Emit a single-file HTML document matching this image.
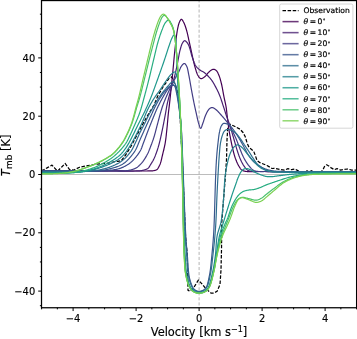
<!DOCTYPE html>
<html lang="en"><head><meta charset="utf-8"><title>Line profile models</title>
<style>html,body{margin:0;padding:0;background:#fff;}body{width:357px;height:339px;overflow:hidden}</style>
</head><body>
<svg width="357" height="339" viewBox="0 0 357 339" style="display:block;font-family:'DejaVu Sans','Liberation Sans',sans-serif">
<rect width="357" height="339" fill="#fff"/>
<defs><clipPath id="ax"><rect x="41.5" y="0.55" width="315.1" height="307.2"/></clipPath></defs>
<g clip-path="url(#ax)" fill="none" stroke-linejoin="round" stroke-linecap="butt">
<line x1="41.5" x2="356.6" y1="174.5" y2="174.5" stroke="#a6a6a6" stroke-width="0.75"/>
<line x1="199.1" x2="199.1" y1="0.55" y2="307.75" stroke="#b4b4b4" stroke-width="1.0" stroke-dasharray="3.1 1.95" stroke-dashoffset="1.2"/>
<path d="M41.40,170.70 L43.00,170.20 L47.50,167.60 L52.00,165.10 L54.80,168.20 L57.60,171.10 L61.50,167.20 L65.20,163.50 L67.30,166.40 L69.40,169.30 L73.60,170.20 L79.50,167.30 L88.00,165.60 L95.00,164.40 L100.60,163.80 L107.00,163.30 L113.00,162.00 L118.00,161.30 L121.20,160.80 L125.60,155.00 L131.20,146.00 L135.10,138.50 L142.80,124.00 L148.50,114.00 L154.10,105.00 L157.50,96.50 L163.00,87.00 L169.00,78.50 L171.70,76.80 L175.00,84.00 L176.90,89.60 L178.00,96.30 L179.90,113.00 L182.30,160.00 L185.50,236.00 L187.30,255.00 L187.80,280.00 L188.00,290.30 L190.50,291.30 L193.50,288.00 L198.40,280.10 L202.50,284.50 L206.30,289.30 L211.20,293.20 L214.00,293.00 L217.10,291.30 L220.00,284.40 L221.00,270.00 L221.50,250.00 L221.80,222.00 L223.50,200.00 L225.50,175.00 L226.50,160.00 L227.00,140.00 L227.80,127.00 L230.10,124.20 L235.00,126.50 L240.20,129.30 L243.00,132.50 L245.30,136.80 L247.10,143.00 L248.60,146.50 L251.00,149.00 L253.70,151.30 L255.50,156.00 L257.00,160.40 L260.00,162.70 L265.40,164.80 L267.00,165.50 L272.10,168.50 L274.00,168.30 L281.00,169.70 L284.50,170.10 L288.00,168.70 L291.50,169.70 L295.00,169.00 L297.80,170.60 L300.50,171.90 L305.50,171.90 L307.00,170.80 L309.00,171.90 L311.50,170.70 L313.50,171.90 L321.00,171.70 L322.60,170.40 L324.50,166.50 L326.60,164.80 L328.80,166.00 L330.80,167.60 L334.30,169.70 L337.10,168.60 L340.60,170.10 L344.10,169.40 L347.60,169.00 L351.80,170.10 L356.60,170.10" stroke="#000" stroke-width="1.25" stroke-dasharray="3.5 1.6"/>
<path d="M41.40,170.90 L45.07,170.90 L48.76,170.90 L52.45,170.90 L56.16,170.90 L59.87,170.90 L63.58,170.90 L67.29,170.90 L70.99,170.90 L74.68,170.90 L78.37,170.90 L82.03,170.90 L85.68,170.90 L89.30,170.90 L92.90,170.90 L96.47,170.90 L100.00,170.90 L103.34,170.90 L106.82,170.91 L110.42,170.92 L114.09,170.94 L117.79,170.96 L121.50,170.97 L125.16,170.99 L128.74,171.00 L132.21,171.01 L135.52,171.02 L138.64,171.02 L141.52,171.02 L144.14,171.00 L146.45,170.98 L148.42,170.95 L150.00,170.90 L150.37,170.89 L150.72,170.88 L151.04,170.87 L151.33,170.86 L151.60,170.85 L151.86,170.84 L152.10,170.83 L152.32,170.82 L152.54,170.81 L152.75,170.79 L152.95,170.77 L153.15,170.75 L153.36,170.72 L153.56,170.69 L153.78,170.65 L154.00,170.60 L154.20,170.56 L154.41,170.51 L154.61,170.47 L154.81,170.42 L155.01,170.37 L155.21,170.32 L155.41,170.26 L155.60,170.20 L155.79,170.14 L155.98,170.07 L156.16,169.99 L156.34,169.91 L156.51,169.82 L156.68,169.72 L156.84,169.62 L157.00,169.50 L157.16,169.37 L157.31,169.22 L157.46,169.06 L157.60,168.89 L157.73,168.72 L157.86,168.53 L157.99,168.34 L158.11,168.14 L158.23,167.94 L158.34,167.74 L158.46,167.53 L158.57,167.32 L158.68,167.11 L158.78,166.91 L158.89,166.70 L159.00,166.50 L159.11,166.30 L159.22,166.09 L159.32,165.89 L159.42,165.69 L159.51,165.49 L159.61,165.29 L159.70,165.08 L159.79,164.87 L159.88,164.66 L159.97,164.45 L160.06,164.22 L160.15,164.00 L160.23,163.76 L160.32,163.52 L160.41,163.26 L160.50,163.00 L160.63,162.60 L160.76,162.17 L160.89,161.73 L161.01,161.28 L161.14,160.81 L161.26,160.32 L161.38,159.82 L161.50,159.31 L161.63,158.80 L161.75,158.27 L161.87,157.74 L161.99,157.20 L162.12,156.65 L162.24,156.10 L162.37,155.55 L162.50,155.00 L162.66,154.32 L162.83,153.63 L163.00,152.92 L163.18,152.21 L163.36,151.48 L163.54,150.74 L163.72,150.00 L163.90,149.24 L164.07,148.48 L164.25,147.71 L164.42,146.94 L164.59,146.16 L164.75,145.38 L164.91,144.59 L165.06,143.79 L165.20,143.00 L165.35,142.11 L165.49,141.21 L165.62,140.29 L165.75,139.36 L165.87,138.43 L165.99,137.48 L166.10,136.53 L166.21,135.58 L166.31,134.62 L166.41,133.67 L166.51,132.71 L166.61,131.76 L166.71,130.81 L166.81,129.86 L166.90,128.93 L167.00,128.00 L167.09,127.11 L167.18,126.22 L167.27,125.32 L167.35,124.43 L167.43,123.53 L167.51,122.64 L167.59,121.75 L167.67,120.86 L167.74,119.98 L167.82,119.10 L167.90,118.23 L167.97,117.37 L168.05,116.51 L168.13,115.67 L168.21,114.83 L168.30,114.00 L168.38,113.28 L168.45,112.60 L168.53,111.93 L168.61,111.27 L168.68,110.63 L168.76,110.00 L168.84,109.37 L168.92,108.73 L169.00,108.09 L169.08,107.43 L169.16,106.76 L169.24,106.07 L169.33,105.35 L169.42,104.61 L169.51,103.82 L169.60,103.00 L169.75,101.61 L169.92,100.12 L170.09,98.55 L170.26,96.91 L170.44,95.20 L170.63,93.44 L170.82,91.64 L171.01,89.81 L171.20,87.95 L171.40,86.08 L171.59,84.21 L171.78,82.35 L171.97,80.51 L172.15,78.70 L172.33,76.92 L172.50,75.20 L172.66,73.59 L172.81,71.97 L172.97,70.36 L173.11,68.74 L173.26,67.14 L173.41,65.53 L173.55,63.93 L173.70,62.34 L173.84,60.76 L173.98,59.18 L174.13,57.62 L174.28,56.06 L174.43,54.53 L174.58,53.00 L174.74,51.49 L174.90,50.00 L175.05,48.67 L175.19,47.33 L175.33,45.97 L175.48,44.62 L175.62,43.27 L175.77,41.93 L175.92,40.59 L176.07,39.28 L176.22,37.99 L176.38,36.73 L176.54,35.50 L176.70,34.30 L176.87,33.15 L177.04,32.05 L177.22,30.99 L177.40,30.00 L177.52,29.39 L177.64,28.79 L177.75,28.20 L177.87,27.63 L177.99,27.07 L178.11,26.52 L178.23,25.99 L178.36,25.48 L178.48,24.98 L178.61,24.50 L178.75,24.04 L178.89,23.59 L179.03,23.16 L179.18,22.76 L179.34,22.37 L179.50,22.00 L179.61,21.77 L179.72,21.54 L179.83,21.31 L179.94,21.07 L180.06,20.84 L180.17,20.62 L180.29,20.41 L180.41,20.20 L180.53,20.02 L180.66,19.84 L180.78,19.69 L180.90,19.56 L181.03,19.45 L181.15,19.37 L181.28,19.32 L181.40,19.30 L181.53,19.31 L181.66,19.36 L181.79,19.44 L181.92,19.55 L182.05,19.68 L182.19,19.84 L182.32,20.01 L182.45,20.20 L182.59,20.41 L182.72,20.63 L182.85,20.85 L182.99,21.08 L183.12,21.31 L183.25,21.55 L183.37,21.78 L183.50,22.00 L183.68,22.33 L183.86,22.69 L184.04,23.05 L184.22,23.44 L184.39,23.84 L184.56,24.25 L184.73,24.67 L184.90,25.11 L185.06,25.56 L185.23,26.03 L185.39,26.50 L185.56,26.98 L185.72,27.47 L185.88,27.98 L186.04,28.48 L186.20,29.00 L186.42,29.74 L186.64,30.51 L186.85,31.31 L187.06,32.13 L187.27,32.98 L187.48,33.85 L187.68,34.74 L187.89,35.64 L188.09,36.56 L188.29,37.48 L188.49,38.41 L188.69,39.33 L188.89,40.26 L189.09,41.18 L189.30,42.10 L189.50,43.00 L189.72,43.95 L189.93,44.92 L190.15,45.90 L190.37,46.89 L190.59,47.90 L190.81,48.90 L191.02,49.91 L191.24,50.91 L191.46,51.91 L191.67,52.90 L191.88,53.87 L192.09,54.82 L192.30,55.76 L192.50,56.67 L192.70,57.55 L192.90,58.40 L193.05,59.03 L193.19,59.65 L193.32,60.25 L193.46,60.84 L193.59,61.41 L193.71,61.98 L193.84,62.54 L193.97,63.09 L194.10,63.64 L194.23,64.18 L194.36,64.71 L194.50,65.25 L194.64,65.78 L194.79,66.32 L194.94,66.86 L195.10,67.40 L195.26,67.93 L195.42,68.47 L195.58,69.02 L195.74,69.57 L195.90,70.12 L196.07,70.67 L196.24,71.22 L196.41,71.76 L196.59,72.29 L196.77,72.80 L196.96,73.31 L197.16,73.79 L197.36,74.26 L197.56,74.70 L197.78,75.11 L198.00,75.50 L198.16,75.76 L198.32,76.02 L198.49,76.29 L198.65,76.54 L198.82,76.79 L198.99,77.04 L199.16,77.27 L199.34,77.50 L199.52,77.71 L199.71,77.90 L199.89,78.07 L200.09,78.23 L200.28,78.36 L200.48,78.47 L200.69,78.55 L200.90,78.60 L201.13,78.62 L201.37,78.61 L201.62,78.56 L201.87,78.49 L202.14,78.39 L202.41,78.27 L202.68,78.13 L202.95,77.98 L203.22,77.81 L203.49,77.63 L203.76,77.44 L204.03,77.25 L204.28,77.06 L204.53,76.87 L204.77,76.68 L205.00,76.50 L205.22,76.32 L205.43,76.13 L205.63,75.92 L205.82,75.71 L206.01,75.49 L206.20,75.26 L206.38,75.03 L206.56,74.80 L206.73,74.56 L206.91,74.33 L207.08,74.09 L207.26,73.86 L207.44,73.64 L207.62,73.42 L207.81,73.20 L208.00,73.00 L208.18,72.81 L208.36,72.62 L208.55,72.44 L208.73,72.25 L208.91,72.06 L209.10,71.87 L209.28,71.69 L209.47,71.51 L209.66,71.34 L209.85,71.17 L210.04,71.00 L210.23,70.85 L210.42,70.70 L210.61,70.55 L210.80,70.42 L211.00,70.30 L211.17,70.20 L211.34,70.10 L211.51,70.00 L211.69,69.91 L211.86,69.82 L212.04,69.73 L212.22,69.65 L212.40,69.57 L212.57,69.50 L212.75,69.44 L212.93,69.39 L213.11,69.35 L213.28,69.32 L213.46,69.30 L213.63,69.29 L213.80,69.30 L213.97,69.32 L214.15,69.35 L214.33,69.40 L214.50,69.45 L214.68,69.52 L214.85,69.60 L215.03,69.68 L215.20,69.78 L215.37,69.88 L215.54,69.99 L215.71,70.11 L215.88,70.24 L216.04,70.37 L216.20,70.51 L216.35,70.65 L216.50,70.80 L216.69,71.01 L216.87,71.23 L217.05,71.47 L217.22,71.72 L217.39,71.98 L217.55,72.26 L217.70,72.55 L217.85,72.85 L218.00,73.16 L218.15,73.48 L218.29,73.81 L218.44,74.14 L218.58,74.47 L218.72,74.81 L218.86,75.16 L219.00,75.50 L219.18,75.95 L219.35,76.42 L219.53,76.90 L219.69,77.39 L219.86,77.89 L220.02,78.40 L220.17,78.93 L220.33,79.46 L220.48,80.00 L220.63,80.55 L220.78,81.11 L220.92,81.68 L221.07,82.25 L221.21,82.83 L221.36,83.41 L221.50,84.00 L221.67,84.74 L221.84,85.50 L222.01,86.28 L222.17,87.09 L222.33,87.91 L222.49,88.74 L222.64,89.58 L222.80,90.43 L222.95,91.28 L223.10,92.12 L223.25,92.97 L223.40,93.80 L223.55,94.63 L223.70,95.44 L223.85,96.23 L224.00,97.00 L224.14,97.66 L224.27,98.32 L224.41,98.96 L224.55,99.60 L224.70,100.24 L224.84,100.87 L224.98,101.49 L225.12,102.11 L225.25,102.73 L225.39,103.34 L225.52,103.95 L225.64,104.56 L225.77,105.17 L225.88,105.78 L226.00,106.39 L226.10,107.00 L226.19,107.57 L226.28,108.13 L226.35,108.68 L226.43,109.22 L226.49,109.76 L226.56,110.29 L226.62,110.83 L226.68,111.37 L226.74,111.91 L226.79,112.46 L226.85,113.02 L226.92,113.58 L226.98,114.16 L227.05,114.76 L227.12,115.37 L227.20,116.00 L227.31,116.86 L227.42,117.75 L227.53,118.66 L227.64,119.60 L227.75,120.55 L227.87,121.52 L227.99,122.51 L228.11,123.51 L228.24,124.52 L228.37,125.55 L228.51,126.58 L228.65,127.62 L228.80,128.66 L228.96,129.71 L229.13,130.75 L229.30,131.80 L229.51,133.01 L229.74,134.28 L229.97,135.57 L230.22,136.90 L230.48,138.25 L230.75,139.61 L231.02,140.98 L231.30,142.34 L231.58,143.68 L231.87,145.01 L232.15,146.30 L232.43,147.55 L232.71,148.76 L232.98,149.91 L233.24,150.99 L233.50,152.00 L233.66,152.61 L233.82,153.19 L233.97,153.76 L234.12,154.31 L234.27,154.84 L234.43,155.35 L234.58,155.86 L234.73,156.35 L234.88,156.82 L235.03,157.29 L235.19,157.75 L235.34,158.21 L235.50,158.66 L235.66,159.11 L235.83,159.55 L236.00,160.00 L236.14,160.37 L236.29,160.74 L236.43,161.10 L236.58,161.45 L236.72,161.80 L236.87,162.15 L237.02,162.48 L237.17,162.82 L237.32,163.15 L237.48,163.48 L237.64,163.80 L237.80,164.13 L237.97,164.45 L238.14,164.77 L238.32,165.08 L238.50,165.40 L238.68,165.71 L238.86,166.03 L239.05,166.35 L239.24,166.67 L239.43,167.00 L239.63,167.32 L239.82,167.64 L240.03,167.95 L240.23,168.25 L240.44,168.55 L240.66,168.83 L240.88,169.10 L241.10,169.35 L241.33,169.59 L241.56,169.80 L241.80,170.00 L241.99,170.14 L242.18,170.27 L242.37,170.39 L242.56,170.50 L242.75,170.59 L242.94,170.68 L243.14,170.76 L243.34,170.84 L243.55,170.90 L243.76,170.97 L243.99,171.03 L244.22,171.08 L244.47,171.14 L244.73,171.19 L245.01,171.24 L245.30,171.30 L245.91,171.40 L246.56,171.48 L247.23,171.53 L247.95,171.58 L248.70,171.60 L249.49,171.61 L250.32,171.61 L251.20,171.60 L252.12,171.59 L253.09,171.57 L254.11,171.55 L255.18,171.53 L256.30,171.51 L257.47,171.50 L258.71,171.50 L260.00,171.50 L263.71,171.52 L268.02,171.54 L272.87,171.55 L278.19,171.55 L283.93,171.55 L290.02,171.55 L296.40,171.55 L303.00,171.55 L309.77,171.54 L316.65,171.53 L323.57,171.52 L330.46,171.52 L337.28,171.51 L343.95,171.51 L350.41,171.50 L356.60,171.50" stroke="#440154" stroke-width="1.2"/>
<path d="M41.40,170.90 L45.09,170.90 L48.81,170.90 L52.57,170.90 L56.35,170.90 L60.14,170.90 L63.93,170.90 L67.72,170.90 L71.49,170.90 L75.24,170.90 L78.95,170.90 L82.62,170.90 L86.24,170.90 L89.79,170.90 L93.28,170.90 L96.68,170.90 L100.00,170.90 L102.67,170.90 L105.39,170.92 L108.14,170.93 L110.91,170.96 L113.67,170.98 L116.41,171.01 L119.11,171.03 L121.74,171.05 L124.28,171.07 L126.72,171.08 L129.03,171.08 L131.19,171.07 L133.19,171.05 L135.01,171.02 L136.62,170.97 L138.00,170.90 L138.44,170.87 L138.85,170.85 L139.23,170.83 L139.59,170.80 L139.92,170.78 L140.23,170.76 L140.52,170.73 L140.80,170.70 L141.08,170.67 L141.34,170.64 L141.61,170.60 L141.87,170.55 L142.14,170.50 L142.41,170.44 L142.70,170.37 L143.00,170.30 L143.32,170.22 L143.65,170.13 L143.98,170.04 L144.32,169.95 L144.65,169.85 L144.99,169.74 L145.33,169.63 L145.66,169.52 L145.98,169.40 L146.30,169.26 L146.62,169.13 L146.92,168.98 L147.21,168.82 L147.49,168.66 L147.75,168.49 L148.00,168.30 L148.21,168.12 L148.40,167.94 L148.58,167.74 L148.76,167.54 L148.92,167.33 L149.07,167.11 L149.22,166.88 L149.36,166.65 L149.50,166.42 L149.64,166.18 L149.77,165.94 L149.91,165.69 L150.05,165.45 L150.19,165.20 L150.34,164.95 L150.50,164.70 L150.69,164.41 L150.88,164.11 L151.07,163.81 L151.27,163.51 L151.47,163.20 L151.66,162.89 L151.86,162.58 L152.06,162.26 L152.26,161.94 L152.45,161.61 L152.65,161.27 L152.84,160.93 L153.03,160.59 L153.23,160.23 L153.41,159.87 L153.60,159.50 L153.83,159.03 L154.05,158.55 L154.28,158.05 L154.50,157.54 L154.73,157.02 L154.95,156.49 L155.17,155.95 L155.38,155.40 L155.60,154.85 L155.81,154.30 L156.02,153.74 L156.22,153.19 L156.42,152.64 L156.62,152.09 L156.81,151.54 L157.00,151.00 L157.18,150.48 L157.35,149.96 L157.52,149.45 L157.68,148.94 L157.84,148.43 L158.00,147.93 L158.15,147.42 L158.30,146.91 L158.45,146.39 L158.60,145.87 L158.75,145.33 L158.90,144.79 L159.04,144.24 L159.19,143.68 L159.35,143.10 L159.50,142.50 L159.70,141.70 L159.90,140.88 L160.11,140.03 L160.31,139.15 L160.52,138.26 L160.72,137.35 L160.92,136.43 L161.13,135.50 L161.33,134.56 L161.53,133.61 L161.73,132.67 L161.93,131.72 L162.12,130.78 L162.32,129.84 L162.51,128.91 L162.70,128.00 L162.89,127.09 L163.07,126.17 L163.26,125.24 L163.45,124.31 L163.63,123.37 L163.81,122.43 L163.99,121.50 L164.17,120.56 L164.35,119.64 L164.52,118.72 L164.70,117.81 L164.86,116.91 L165.03,116.03 L165.19,115.17 L165.35,114.32 L165.50,113.50 L165.62,112.85 L165.73,112.23 L165.83,111.62 L165.93,111.03 L166.03,110.44 L166.13,109.87 L166.22,109.30 L166.31,108.73 L166.41,108.17 L166.50,107.60 L166.60,107.03 L166.71,106.45 L166.82,105.86 L166.94,105.26 L167.06,104.64 L167.20,104.00 L167.38,103.20 L167.57,102.38 L167.77,101.54 L167.97,100.69 L168.19,99.83 L168.41,98.96 L168.64,98.07 L168.87,97.19 L169.11,96.29 L169.35,95.39 L169.59,94.49 L169.83,93.59 L170.08,92.68 L170.32,91.78 L170.56,90.89 L170.80,90.00 L171.05,89.08 L171.30,88.16 L171.56,87.23 L171.83,86.30 L172.09,85.37 L172.36,84.43 L172.63,83.49 L172.90,82.56 L173.17,81.62 L173.43,80.69 L173.69,79.76 L173.95,78.83 L174.20,77.91 L174.44,77.00 L174.68,76.10 L174.90,75.20 L175.10,74.39 L175.29,73.58 L175.47,72.78 L175.65,71.99 L175.82,71.20 L176.00,70.41 L176.16,69.63 L176.33,68.84 L176.49,68.06 L176.65,67.29 L176.80,66.51 L176.96,65.73 L177.12,64.95 L177.28,64.17 L177.44,63.39 L177.60,62.60 L177.76,61.81 L177.92,61.00 L178.07,60.18 L178.22,59.36 L178.37,58.54 L178.52,57.71 L178.67,56.88 L178.82,56.06 L178.96,55.25 L179.12,54.44 L179.27,53.65 L179.43,52.88 L179.59,52.13 L179.75,51.39 L179.92,50.68 L180.10,50.00 L180.24,49.49 L180.37,48.99 L180.51,48.49 L180.64,48.00 L180.78,47.51 L180.92,47.03 L181.06,46.56 L181.20,46.10 L181.35,45.65 L181.50,45.22 L181.65,44.80 L181.81,44.40 L181.97,44.02 L182.14,43.66 L182.32,43.32 L182.50,43.00 L182.62,42.80 L182.75,42.60 L182.88,42.40 L183.01,42.20 L183.14,42.00 L183.28,41.82 L183.42,41.64 L183.56,41.47 L183.70,41.31 L183.84,41.17 L183.98,41.04 L184.12,40.93 L184.27,40.84 L184.41,40.77 L184.56,40.72 L184.70,40.70 L184.84,40.70 L184.98,40.73 L185.13,40.78 L185.27,40.85 L185.42,40.94 L185.57,41.04 L185.72,41.16 L185.87,41.28 L186.02,41.42 L186.17,41.57 L186.32,41.72 L186.46,41.88 L186.60,42.04 L186.74,42.19 L186.87,42.35 L187.00,42.50 L187.15,42.68 L187.29,42.86 L187.42,43.04 L187.56,43.24 L187.68,43.43 L187.81,43.63 L187.93,43.84 L188.05,44.06 L188.17,44.28 L188.29,44.51 L188.40,44.75 L188.52,45.00 L188.64,45.26 L188.76,45.53 L188.88,45.81 L189.00,46.10 L189.21,46.63 L189.41,47.20 L189.62,47.83 L189.82,48.49 L190.02,49.18 L190.22,49.91 L190.42,50.65 L190.62,51.41 L190.82,52.18 L191.02,52.95 L191.23,53.71 L191.44,54.47 L191.65,55.22 L191.86,55.94 L192.08,56.64 L192.30,57.30 L192.50,57.87 L192.69,58.44 L192.88,59.01 L193.07,59.57 L193.26,60.14 L193.45,60.70 L193.64,61.25 L193.84,61.79 L194.04,62.33 L194.25,62.85 L194.46,63.36 L194.69,63.86 L194.92,64.35 L195.17,64.82 L195.43,65.27 L195.70,65.70 L195.94,66.05 L196.19,66.39 L196.45,66.72 L196.72,67.04 L196.99,67.35 L197.27,67.65 L197.56,67.94 L197.85,68.22 L198.14,68.50 L198.43,68.76 L198.73,69.02 L199.03,69.27 L199.32,69.52 L199.62,69.75 L199.91,69.98 L200.20,70.20 L200.44,70.38 L200.69,70.54 L200.93,70.69 L201.18,70.83 L201.43,70.96 L201.68,71.09 L201.93,71.22 L202.18,71.34 L202.43,71.46 L202.67,71.58 L202.92,71.70 L203.16,71.82 L203.40,71.96 L203.64,72.09 L203.87,72.24 L204.10,72.40 L204.33,72.57 L204.55,72.74 L204.77,72.92 L204.99,73.10 L205.20,73.28 L205.41,73.46 L205.62,73.65 L205.83,73.85 L206.04,74.04 L206.24,74.24 L206.45,74.44 L206.66,74.65 L206.86,74.86 L207.07,75.07 L207.29,75.28 L207.50,75.50 L207.75,75.75 L208.00,76.01 L208.25,76.27 L208.51,76.53 L208.76,76.80 L209.02,77.07 L209.27,77.34 L209.53,77.62 L209.78,77.90 L210.04,78.19 L210.29,78.48 L210.54,78.78 L210.78,79.08 L211.03,79.38 L211.27,79.69 L211.50,80.00 L211.75,80.34 L212.00,80.69 L212.24,81.05 L212.47,81.41 L212.71,81.77 L212.94,82.14 L213.17,82.51 L213.40,82.89 L213.62,83.27 L213.85,83.66 L214.07,84.05 L214.29,84.45 L214.52,84.86 L214.74,85.26 L214.97,85.68 L215.20,86.10 L215.47,86.60 L215.74,87.11 L216.02,87.63 L216.29,88.16 L216.57,88.69 L216.84,89.23 L217.12,89.78 L217.39,90.33 L217.67,90.90 L217.94,91.46 L218.21,92.04 L218.47,92.62 L218.73,93.21 L218.99,93.80 L219.25,94.40 L219.50,95.00 L219.78,95.70 L220.06,96.41 L220.33,97.15 L220.60,97.90 L220.87,98.66 L221.13,99.43 L221.39,100.20 L221.65,100.98 L221.91,101.76 L222.16,102.53 L222.41,103.31 L222.65,104.07 L222.89,104.83 L223.13,105.57 L223.37,106.29 L223.60,107.00 L223.80,107.60 L223.99,108.19 L224.18,108.77 L224.36,109.35 L224.54,109.92 L224.72,110.48 L224.90,111.04 L225.08,111.60 L225.25,112.16 L225.42,112.71 L225.60,113.26 L225.78,113.80 L225.95,114.35 L226.13,114.90 L226.31,115.45 L226.50,116.00 L226.68,116.53 L226.87,117.06 L227.05,117.58 L227.24,118.09 L227.42,118.60 L227.61,119.11 L227.80,119.62 L227.99,120.13 L228.18,120.64 L228.37,121.16 L228.56,121.68 L228.75,122.21 L228.93,122.74 L229.12,123.28 L229.31,123.84 L229.50,124.40 L229.72,125.07 L229.93,125.74 L230.15,126.43 L230.36,127.12 L230.58,127.82 L230.79,128.52 L231.01,129.24 L231.22,129.96 L231.44,130.69 L231.65,131.43 L231.87,132.17 L232.09,132.92 L232.31,133.68 L232.54,134.45 L232.77,135.22 L233.00,136.00 L233.28,136.94 L233.56,137.92 L233.85,138.93 L234.15,139.96 L234.45,141.01 L234.75,142.08 L235.05,143.15 L235.36,144.22 L235.66,145.28 L235.97,146.33 L236.27,147.36 L236.56,148.37 L236.86,149.34 L237.15,150.27 L237.43,151.16 L237.70,152.00 L237.88,152.55 L238.06,153.09 L238.24,153.60 L238.41,154.11 L238.58,154.60 L238.75,155.07 L238.92,155.54 L239.08,156.00 L239.25,156.45 L239.42,156.90 L239.59,157.33 L239.76,157.77 L239.94,158.20 L240.12,158.63 L240.31,159.07 L240.50,159.50 L240.68,159.90 L240.86,160.29 L241.04,160.68 L241.22,161.06 L241.40,161.45 L241.58,161.83 L241.77,162.20 L241.96,162.57 L242.15,162.94 L242.35,163.31 L242.54,163.67 L242.75,164.02 L242.95,164.37 L243.16,164.72 L243.38,165.06 L243.60,165.40 L243.81,165.72 L244.03,166.04 L244.26,166.37 L244.49,166.70 L244.72,167.02 L244.95,167.35 L245.19,167.66 L245.43,167.97 L245.68,168.28 L245.92,168.57 L246.17,168.85 L246.41,169.11 L246.66,169.36 L246.91,169.59 L247.15,169.81 L247.40,170.00 L247.57,170.13 L247.74,170.24 L247.90,170.35 L248.06,170.44 L248.21,170.53 L248.37,170.61 L248.53,170.69 L248.69,170.75 L248.85,170.82 L249.03,170.88 L249.21,170.93 L249.40,170.99 L249.60,171.04 L249.82,171.09 L250.05,171.15 L250.30,171.20 L250.88,171.31 L251.50,171.39 L252.16,171.45 L252.87,171.50 L253.62,171.53 L254.42,171.55 L255.26,171.56 L256.14,171.56 L257.08,171.55 L258.06,171.54 L259.09,171.52 L260.17,171.51 L261.30,171.50 L262.48,171.49 L263.71,171.49 L265.00,171.50 L268.57,171.53 L272.70,171.55 L277.32,171.57 L282.39,171.58 L287.83,171.58 L293.61,171.58 L299.65,171.57 L305.90,171.57 L312.30,171.56 L318.80,171.55 L325.34,171.54 L331.86,171.53 L338.31,171.52 L344.61,171.51 L350.73,171.50 L356.60,171.50" stroke="#482071" stroke-width="1.2"/>
<path d="M41.40,171.00 L45.11,171.00 L48.92,171.00 L52.79,171.00 L56.71,171.00 L60.66,171.01 L64.61,171.01 L68.55,171.01 L72.46,171.01 L76.31,171.01 L80.09,171.01 L83.77,171.01 L87.33,171.01 L90.75,171.01 L94.02,171.01 L97.11,171.01 L100.00,171.00 L101.69,171.00 L103.35,171.00 L104.98,171.00 L106.57,171.00 L108.12,171.00 L109.63,171.01 L111.10,171.01 L112.52,171.01 L113.90,171.01 L115.23,171.00 L116.50,171.00 L117.72,170.99 L118.88,170.97 L119.98,170.95 L121.02,170.93 L122.00,170.90 L122.48,170.88 L122.93,170.87 L123.37,170.85 L123.78,170.84 L124.17,170.82 L124.55,170.81 L124.92,170.79 L125.27,170.77 L125.62,170.75 L125.96,170.73 L126.30,170.70 L126.63,170.67 L126.97,170.64 L127.31,170.60 L127.65,170.55 L128.00,170.50 L128.33,170.45 L128.66,170.39 L128.98,170.34 L129.30,170.28 L129.63,170.21 L129.95,170.15 L130.26,170.08 L130.58,170.00 L130.89,169.93 L131.20,169.85 L131.51,169.77 L131.81,169.68 L132.11,169.59 L132.41,169.50 L132.71,169.40 L133.00,169.30 L133.27,169.21 L133.53,169.11 L133.79,169.02 L134.04,168.92 L134.29,168.83 L134.54,168.73 L134.78,168.62 L135.03,168.52 L135.27,168.40 L135.52,168.28 L135.76,168.16 L136.00,168.03 L136.25,167.88 L136.50,167.73 L136.75,167.57 L137.00,167.40 L137.34,167.16 L137.68,166.89 L138.03,166.62 L138.38,166.32 L138.73,166.01 L139.08,165.69 L139.44,165.36 L139.79,165.01 L140.14,164.66 L140.49,164.30 L140.84,163.93 L141.18,163.55 L141.52,163.17 L141.86,162.78 L142.18,162.39 L142.50,162.00 L142.85,161.56 L143.19,161.11 L143.53,160.64 L143.86,160.16 L144.20,159.68 L144.52,159.18 L144.85,158.68 L145.16,158.17 L145.48,157.66 L145.78,157.14 L146.08,156.62 L146.38,156.09 L146.67,155.57 L146.95,155.04 L147.23,154.52 L147.50,154.00 L147.76,153.49 L148.01,152.97 L148.25,152.44 L148.49,151.92 L148.71,151.39 L148.94,150.86 L149.16,150.33 L149.37,149.79 L149.58,149.26 L149.78,148.72 L149.99,148.18 L150.19,147.64 L150.39,147.11 L150.59,146.57 L150.80,146.03 L151.00,145.50 L151.20,144.97 L151.40,144.45 L151.59,143.94 L151.79,143.43 L151.98,142.91 L152.16,142.40 L152.35,141.89 L152.54,141.38 L152.72,140.86 L152.90,140.33 L153.09,139.80 L153.27,139.26 L153.45,138.71 L153.63,138.16 L153.82,137.58 L154.00,137.00 L154.22,136.26 L154.45,135.51 L154.67,134.72 L154.89,133.93 L155.12,133.11 L155.34,132.29 L155.56,131.45 L155.78,130.61 L156.00,129.77 L156.21,128.92 L156.43,128.08 L156.65,127.24 L156.86,126.41 L157.08,125.59 L157.29,124.79 L157.50,124.00 L157.69,123.28 L157.89,122.57 L158.08,121.85 L158.27,121.14 L158.46,120.43 L158.64,119.73 L158.83,119.03 L159.02,118.33 L159.21,117.64 L159.39,116.95 L159.58,116.27 L159.76,115.60 L159.95,114.94 L160.13,114.28 L160.32,113.64 L160.50,113.00 L160.66,112.47 L160.81,111.94 L160.96,111.43 L161.10,110.93 L161.25,110.44 L161.39,109.95 L161.54,109.47 L161.68,108.99 L161.83,108.51 L161.98,108.02 L162.13,107.54 L162.29,107.05 L162.46,106.55 L162.63,106.05 L162.81,105.53 L163.00,105.00 L163.24,104.35 L163.48,103.69 L163.74,103.02 L164.01,102.33 L164.28,101.63 L164.57,100.93 L164.86,100.22 L165.15,99.51 L165.44,98.80 L165.74,98.09 L166.04,97.38 L166.34,96.69 L166.63,96.00 L166.93,95.32 L167.22,94.65 L167.50,94.00 L167.75,93.43 L168.00,92.87 L168.25,92.31 L168.49,91.77 L168.74,91.22 L168.98,90.68 L169.23,90.15 L169.48,89.62 L169.72,89.09 L169.97,88.56 L170.22,88.04 L170.47,87.51 L170.73,86.99 L170.98,86.46 L171.24,85.93 L171.50,85.40 L171.77,84.86 L172.04,84.32 L172.31,83.77 L172.59,83.21 L172.87,82.66 L173.16,82.10 L173.44,81.55 L173.72,81.00 L174.01,80.46 L174.29,79.92 L174.57,79.39 L174.85,78.87 L175.12,78.35 L175.38,77.85 L175.65,77.37 L175.90,76.90 L176.09,76.54 L176.29,76.20 L176.48,75.87 L176.67,75.54 L176.85,75.22 L177.04,74.91 L177.22,74.60 L177.40,74.29 L177.58,73.99 L177.76,73.69 L177.93,73.38 L178.11,73.07 L178.28,72.76 L178.46,72.45 L178.63,72.13 L178.80,71.80 L178.98,71.45 L179.15,71.08 L179.31,70.70 L179.47,70.32 L179.63,69.93 L179.79,69.53 L179.94,69.14 L180.10,68.75 L180.25,68.36 L180.42,67.98 L180.58,67.61 L180.75,67.26 L180.93,66.92 L181.11,66.59 L181.30,66.28 L181.50,66.00 L181.66,65.79 L181.83,65.57 L182.01,65.35 L182.19,65.12 L182.37,64.91 L182.56,64.69 L182.75,64.49 L182.94,64.30 L183.13,64.12 L183.32,63.96 L183.51,63.82 L183.69,63.70 L183.88,63.60 L184.06,63.54 L184.23,63.50 L184.40,63.50 L184.57,63.53 L184.73,63.60 L184.89,63.69 L185.06,63.82 L185.22,63.96 L185.38,64.13 L185.53,64.32 L185.69,64.53 L185.84,64.75 L185.99,64.99 L186.13,65.23 L186.27,65.48 L186.41,65.73 L186.55,65.99 L186.68,66.25 L186.80,66.50 L186.97,66.88 L187.13,67.28 L187.27,67.70 L187.41,68.14 L187.53,68.59 L187.65,69.07 L187.76,69.56 L187.86,70.06 L187.96,70.58 L188.06,71.11 L188.16,71.66 L188.26,72.21 L188.36,72.77 L188.47,73.34 L188.58,73.92 L188.70,74.50 L188.87,75.33 L189.04,76.20 L189.21,77.11 L189.39,78.05 L189.56,79.01 L189.74,80.00 L189.92,81.00 L190.09,82.01 L190.27,83.04 L190.45,84.06 L190.62,85.09 L190.80,86.10 L190.98,87.11 L191.15,88.09 L191.33,89.06 L191.50,90.00 L191.66,90.85 L191.82,91.69 L191.97,92.53 L192.13,93.37 L192.29,94.21 L192.44,95.04 L192.60,95.86 L192.75,96.68 L192.91,97.49 L193.07,98.30 L193.22,99.10 L193.38,99.90 L193.53,100.69 L193.69,101.47 L193.84,102.24 L194.00,103.00 L194.14,103.66 L194.27,104.31 L194.41,104.95 L194.54,105.59 L194.68,106.22 L194.81,106.84 L194.95,107.46 L195.09,108.07 L195.22,108.68 L195.36,109.29 L195.50,109.90 L195.63,110.52 L195.77,111.13 L195.91,111.75 L196.06,112.37 L196.20,113.00 L196.35,113.66 L196.50,114.33 L196.65,115.01 L196.80,115.71 L196.95,116.41 L197.10,117.11 L197.25,117.81 L197.41,118.50 L197.56,119.19 L197.72,119.86 L197.88,120.52 L198.04,121.17 L198.20,121.79 L198.36,122.39 L198.53,122.96 L198.70,123.50 L198.82,123.87 L198.94,124.26 L199.06,124.66 L199.18,125.07 L199.31,125.47 L199.43,125.87 L199.56,126.26 L199.69,126.62 L199.81,126.97 L199.94,127.29 L200.07,127.57 L200.20,127.82 L200.32,128.02 L200.45,128.17 L200.57,128.27 L200.70,128.30 L200.82,128.27 L200.94,128.19 L201.05,128.05 L201.17,127.87 L201.29,127.65 L201.41,127.39 L201.52,127.10 L201.64,126.79 L201.76,126.45 L201.88,126.11 L201.99,125.75 L202.11,125.39 L202.23,125.03 L202.35,124.67 L202.48,124.33 L202.60,124.00 L202.77,123.55 L202.94,123.07 L203.11,122.56 L203.29,122.04 L203.46,121.50 L203.63,120.95 L203.81,120.38 L203.99,119.82 L204.17,119.25 L204.35,118.68 L204.53,118.11 L204.72,117.56 L204.91,117.02 L205.10,116.49 L205.30,115.98 L205.50,115.50 L205.67,115.10 L205.85,114.70 L206.03,114.30 L206.21,113.90 L206.40,113.50 L206.58,113.11 L206.77,112.72 L206.96,112.34 L207.15,111.97 L207.34,111.62 L207.54,111.27 L207.73,110.94 L207.92,110.63 L208.12,110.33 L208.31,110.06 L208.50,109.80 L208.62,109.64 L208.75,109.49 L208.87,109.35 L208.99,109.21 L209.11,109.08 L209.23,108.95 L209.35,108.83 L209.48,108.72 L209.60,108.61 L209.72,108.51 L209.85,108.41 L209.98,108.31 L210.10,108.23 L210.23,108.15 L210.37,108.07 L210.50,108.00 L210.62,107.94 L210.74,107.89 L210.86,107.84 L210.98,107.79 L211.10,107.75 L211.22,107.71 L211.34,107.67 L211.47,107.64 L211.59,107.62 L211.72,107.60 L211.85,107.58 L211.97,107.57 L212.10,107.57 L212.23,107.57 L212.37,107.58 L212.50,107.60 L212.67,107.63 L212.85,107.67 L213.03,107.73 L213.21,107.79 L213.39,107.87 L213.57,107.95 L213.76,108.05 L213.94,108.15 L214.13,108.26 L214.32,108.38 L214.52,108.50 L214.71,108.63 L214.90,108.77 L215.10,108.91 L215.30,109.05 L215.50,109.20 L215.80,109.43 L216.10,109.68 L216.41,109.95 L216.72,110.23 L217.03,110.53 L217.35,110.85 L217.67,111.17 L217.99,111.51 L218.32,111.86 L218.65,112.22 L218.99,112.59 L219.32,112.96 L219.66,113.34 L220.01,113.72 L220.35,114.11 L220.70,114.50 L221.16,115.01 L221.64,115.55 L222.12,116.09 L222.62,116.65 L223.13,117.23 L223.64,117.81 L224.16,118.41 L224.67,119.02 L225.19,119.64 L225.70,120.27 L226.21,120.91 L226.71,121.56 L227.20,122.21 L227.68,122.87 L228.15,123.53 L228.60,124.20 L229.07,124.92 L229.52,125.65 L229.96,126.39 L230.40,127.13 L230.82,127.89 L231.24,128.66 L231.65,129.43 L232.06,130.22 L232.46,131.01 L232.85,131.81 L233.25,132.62 L233.64,133.44 L234.03,134.27 L234.42,135.10 L234.81,135.95 L235.20,136.80 L235.64,137.79 L236.09,138.83 L236.54,139.91 L236.98,141.02 L237.42,142.15 L237.86,143.30 L238.30,144.45 L238.73,145.60 L239.16,146.73 L239.58,147.85 L239.99,148.94 L240.39,150.00 L240.79,151.01 L241.17,151.97 L241.54,152.87 L241.90,153.70 L242.11,154.18 L242.32,154.65 L242.52,155.09 L242.72,155.52 L242.91,155.93 L243.09,156.33 L243.28,156.72 L243.46,157.09 L243.64,157.47 L243.83,157.83 L244.01,158.19 L244.20,158.55 L244.39,158.91 L244.59,159.27 L244.79,159.63 L245.00,160.00 L245.21,160.36 L245.42,160.71 L245.63,161.06 L245.84,161.41 L246.05,161.76 L246.27,162.11 L246.49,162.45 L246.71,162.79 L246.93,163.12 L247.16,163.46 L247.39,163.79 L247.63,164.12 L247.86,164.44 L248.11,164.77 L248.35,165.08 L248.60,165.40 L248.85,165.71 L249.11,166.03 L249.38,166.36 L249.65,166.68 L249.92,167.01 L250.20,167.33 L250.48,167.65 L250.76,167.96 L251.05,168.26 L251.33,168.56 L251.61,168.84 L251.90,169.11 L252.18,169.36 L252.45,169.59 L252.73,169.81 L253.00,170.00 L253.19,170.12 L253.36,170.24 L253.53,170.34 L253.70,170.44 L253.86,170.53 L254.03,170.61 L254.19,170.68 L254.36,170.75 L254.53,170.82 L254.70,170.88 L254.89,170.93 L255.08,170.99 L255.29,171.04 L255.51,171.09 L255.75,171.15 L256.00,171.20 L256.57,171.30 L257.17,171.38 L257.81,171.44 L258.48,171.49 L259.20,171.52 L259.96,171.54 L260.76,171.55 L261.60,171.55 L262.48,171.54 L263.41,171.53 L264.39,171.52 L265.41,171.51 L266.49,171.50 L267.61,171.49 L268.78,171.49 L270.00,171.50 L273.38,171.53 L277.29,171.55 L281.67,171.57 L286.46,171.57 L291.61,171.58 L297.06,171.58 L302.77,171.57 L308.68,171.57 L314.74,171.56 L320.88,171.55 L327.06,171.54 L333.22,171.52 L339.31,171.52 L345.27,171.51 L351.05,171.50 L356.60,171.50" stroke="#433d84" stroke-width="1.2"/>
<path d="M41.40,171.10 L44.50,171.10 L47.72,171.10 L51.03,171.10 L54.41,171.11 L57.81,171.11 L61.23,171.11 L64.63,171.12 L67.98,171.12 L71.27,171.12 L74.45,171.12 L77.51,171.12 L80.42,171.12 L83.15,171.12 L85.67,171.11 L87.97,171.11 L90.00,171.10 L90.83,171.10 L91.61,171.09 L92.34,171.09 L93.03,171.09 L93.68,171.09 L94.30,171.09 L94.90,171.09 L95.47,171.09 L96.03,171.09 L96.58,171.08 L97.13,171.08 L97.68,171.07 L98.23,171.06 L98.80,171.04 L99.39,171.02 L100.00,171.00 L100.63,170.97 L101.25,170.95 L101.88,170.92 L102.50,170.89 L103.13,170.87 L103.75,170.83 L104.38,170.80 L105.01,170.76 L105.63,170.72 L106.26,170.68 L106.88,170.63 L107.51,170.57 L108.13,170.51 L108.75,170.45 L109.38,170.38 L110.00,170.30 L110.63,170.22 L111.26,170.14 L111.89,170.06 L112.52,169.98 L113.16,169.89 L113.79,169.80 L114.42,169.71 L115.05,169.61 L115.68,169.50 L116.31,169.38 L116.93,169.25 L117.55,169.11 L118.17,168.95 L118.79,168.79 L119.40,168.60 L120.00,168.40 L120.62,168.18 L121.24,167.93 L121.87,167.68 L122.50,167.41 L123.12,167.12 L123.75,166.83 L124.37,166.52 L124.98,166.20 L125.59,165.88 L126.18,165.54 L126.77,165.20 L127.35,164.85 L127.91,164.49 L128.46,164.13 L128.99,163.77 L129.50,163.40 L129.94,163.07 L130.37,162.74 L130.78,162.40 L131.18,162.05 L131.58,161.70 L131.96,161.34 L132.33,160.98 L132.70,160.62 L133.07,160.24 L133.42,159.87 L133.77,159.48 L134.12,159.10 L134.47,158.70 L134.81,158.31 L135.16,157.91 L135.50,157.50 L135.86,157.07 L136.22,156.63 L136.57,156.18 L136.93,155.73 L137.28,155.27 L137.63,154.80 L137.97,154.33 L138.31,153.85 L138.64,153.37 L138.97,152.89 L139.28,152.41 L139.59,151.92 L139.88,151.44 L140.17,150.96 L140.44,150.48 L140.70,150.00 L140.92,149.57 L141.12,149.15 L141.31,148.73 L141.49,148.32 L141.66,147.91 L141.81,147.49 L141.97,147.08 L142.12,146.66 L142.26,146.24 L142.41,145.81 L142.56,145.37 L142.71,144.92 L142.87,144.46 L143.03,143.99 L143.21,143.50 L143.40,143.00 L143.68,142.26 L143.98,141.48 L144.28,140.67 L144.60,139.84 L144.92,138.98 L145.25,138.10 L145.58,137.21 L145.92,136.30 L146.27,135.38 L146.62,134.46 L146.96,133.53 L147.31,132.61 L147.66,131.69 L148.01,130.78 L148.36,129.88 L148.70,129.00 L149.05,128.11 L149.40,127.21 L149.76,126.30 L150.12,125.38 L150.48,124.46 L150.85,123.53 L151.22,122.61 L151.58,121.69 L151.95,120.79 L152.31,119.89 L152.66,119.01 L153.01,118.16 L153.35,117.32 L153.68,116.52 L153.99,115.74 L154.30,115.00 L154.51,114.50 L154.71,114.02 L154.89,113.56 L155.08,113.11 L155.25,112.68 L155.43,112.26 L155.60,111.84 L155.77,111.44 L155.94,111.03 L156.12,110.62 L156.29,110.21 L156.48,109.79 L156.67,109.37 L156.87,108.93 L157.08,108.47 L157.30,108.00 L157.60,107.37 L157.91,106.72 L158.24,106.05 L158.58,105.37 L158.93,104.67 L159.28,103.96 L159.65,103.24 L160.02,102.52 L160.39,101.80 L160.77,101.08 L161.15,100.37 L161.52,99.67 L161.90,98.97 L162.27,98.30 L162.64,97.64 L163.00,97.00 L163.31,96.45 L163.63,95.90 L163.94,95.36 L164.25,94.81 L164.57,94.27 L164.88,93.74 L165.20,93.21 L165.51,92.69 L165.83,92.17 L166.14,91.67 L166.45,91.19 L166.77,90.72 L167.08,90.26 L167.39,89.82 L167.69,89.40 L168.00,89.00 L168.22,88.72 L168.44,88.43 L168.66,88.15 L168.88,87.86 L169.10,87.59 L169.32,87.32 L169.54,87.06 L169.75,86.81 L169.97,86.57 L170.19,86.35 L170.41,86.14 L170.62,85.95 L170.84,85.78 L171.06,85.63 L171.28,85.50 L171.50,85.40 L171.66,85.35 L171.81,85.31 L171.97,85.28 L172.12,85.27 L172.28,85.27 L172.44,85.28 L172.59,85.29 L172.75,85.31 L172.90,85.34 L173.06,85.37 L173.22,85.40 L173.37,85.42 L173.53,85.45 L173.69,85.47 L173.84,85.49 L174.00,85.50" stroke="#3e4989" stroke-width="1.2"/>
<path d="M41.40,171.20 L43.86,171.20 L46.40,171.20 L49.00,171.20 L51.64,171.21 L54.31,171.21 L56.98,171.21 L59.64,171.21 L62.27,171.22 L64.85,171.22 L67.36,171.22 L69.79,171.22 L72.12,171.22 L74.32,171.22 L76.38,171.21 L78.28,171.21 L80.00,171.20 L80.80,171.20 L81.56,171.19 L82.28,171.19 L82.96,171.19 L83.61,171.19 L84.23,171.19 L84.83,171.18 L85.41,171.18 L85.98,171.18 L86.54,171.17 L87.09,171.16 L87.65,171.15 L88.22,171.14 L88.79,171.13 L89.39,171.12 L90.00,171.10 L90.63,171.08 L91.25,171.07 L91.88,171.05 L92.50,171.03 L93.13,171.02 L93.75,171.00 L94.38,170.98 L95.00,170.96 L95.63,170.93 L96.26,170.90 L96.88,170.86 L97.51,170.82 L98.13,170.78 L98.75,170.73 L99.38,170.67 L100.00,170.60 L100.63,170.53 L101.25,170.45 L101.88,170.36 L102.51,170.27 L103.14,170.18 L103.76,170.08 L104.39,169.98 L105.02,169.87 L105.64,169.76 L106.27,169.64 L106.89,169.51 L107.51,169.38 L108.14,169.24 L108.76,169.10 L109.38,168.95 L110.00,168.80 L110.64,168.64 L111.28,168.47 L111.94,168.29 L112.60,168.11 L113.26,167.92 L113.92,167.72 L114.58,167.52 L115.23,167.31 L115.88,167.10 L116.52,166.88 L117.14,166.66 L117.75,166.44 L118.35,166.21 L118.92,165.98 L119.47,165.74 L120.00,165.50 L120.39,165.31 L120.77,165.13 L121.13,164.94 L121.48,164.76 L121.83,164.57 L122.16,164.38 L122.49,164.18 L122.81,163.99 L123.13,163.79 L123.44,163.58 L123.75,163.37 L124.06,163.15 L124.36,162.92 L124.67,162.69 L124.99,162.45 L125.30,162.20 L125.65,161.92 L125.99,161.62 L126.34,161.32 L126.68,161.00 L127.02,160.68 L127.36,160.36 L127.69,160.02 L128.02,159.68 L128.35,159.33 L128.68,158.98 L129.01,158.63 L129.33,158.27 L129.65,157.90 L129.97,157.54 L130.29,157.17 L130.60,156.80 L130.93,156.41 L131.25,156.02 L131.58,155.62 L131.90,155.23 L132.21,154.82 L132.53,154.42 L132.84,154.01 L133.15,153.59 L133.46,153.17 L133.76,152.74 L134.06,152.30 L134.36,151.86 L134.65,151.41 L134.94,150.95 L135.22,150.48 L135.50,150.00 L135.81,149.43 L136.12,148.85 L136.41,148.26 L136.70,147.65 L136.98,147.03 L137.26,146.40 L137.53,145.76 L137.80,145.12 L138.06,144.46 L138.33,143.80 L138.60,143.14 L138.87,142.48 L139.14,141.81 L139.42,141.14 L139.71,140.47 L140.00,139.80 L140.33,139.06 L140.66,138.32 L140.99,137.57 L141.33,136.81 L141.67,136.04 L142.01,135.27 L142.35,134.50 L142.70,133.72 L143.05,132.95 L143.39,132.17 L143.74,131.39 L144.09,130.61 L144.45,129.83 L144.80,129.05 L145.15,128.27 L145.50,127.50 L145.86,126.71 L146.23,125.92 L146.60,125.11 L146.97,124.30 L147.35,123.48 L147.73,122.66 L148.11,121.84 L148.49,121.03 L148.87,120.22 L149.24,119.43 L149.61,118.64 L149.97,117.87 L150.32,117.12 L150.66,116.39 L150.98,115.68 L151.30,115.00 L151.52,114.51 L151.74,114.04 L151.94,113.58 L152.14,113.13 L152.33,112.70 L152.52,112.28 L152.70,111.86 L152.89,111.44 L153.07,111.03 L153.26,110.62 L153.44,110.20 L153.64,109.78 L153.84,109.35 L154.05,108.91 L154.27,108.46 L154.50,108.00 L154.79,107.42 L155.10,106.82 L155.41,106.20 L155.73,105.58 L156.06,104.94 L156.39,104.30 L156.73,103.66 L157.08,103.01 L157.43,102.36 L157.79,101.71 L158.15,101.07 L158.52,100.43 L158.89,99.81 L159.26,99.19 L159.63,98.59 L160.00,98.00 L160.35,97.46 L160.72,96.92 L161.09,96.37 L161.46,95.84 L161.84,95.30 L162.22,94.77 L162.61,94.24 L163.00,93.73 L163.38,93.22 L163.77,92.72 L164.15,92.23 L164.54,91.75 L164.91,91.29 L165.28,90.84 L165.64,90.41 L166.00,90.00 L166.26,89.70 L166.52,89.40 L166.79,89.11 L167.04,88.82 L167.30,88.54 L167.56,88.27 L167.81,88.00 L168.06,87.74 L168.31,87.49 L168.56,87.25 L168.81,87.02 L169.05,86.79 L169.29,86.58 L169.53,86.37 L169.77,86.18 L170.00,86.00 L170.16,85.87 L170.33,85.75 L170.49,85.62 L170.65,85.50 L170.81,85.38 L170.97,85.26 L171.13,85.15 L171.29,85.05 L171.44,84.95 L171.60,84.86 L171.75,84.79 L171.90,84.72 L172.05,84.67 L172.20,84.63 L172.35,84.61 L172.50,84.60 L172.63,84.61 L172.77,84.62 L172.90,84.65 L173.03,84.68 L173.16,84.73 L173.29,84.78 L173.42,84.84 L173.55,84.92 L173.67,85.00 L173.80,85.08 L173.92,85.18 L174.04,85.29 L174.16,85.40 L174.28,85.53 L174.39,85.66 L174.50,85.80 L174.71,86.12 L174.91,86.49 L175.09,86.92 L175.27,87.39 L175.43,87.90 L175.58,88.45 L175.73,89.03 L175.87,89.63 L176.00,90.27 L176.14,90.92 L176.27,91.58 L176.39,92.26 L176.52,92.95 L176.65,93.64 L176.79,94.32 L176.92,95.00 L177.12,95.96 L177.31,96.97 L177.50,98.02 L177.69,99.11 L177.88,100.23 L178.06,101.37 L178.24,102.54 L178.42,103.72 L178.60,104.91 L178.77,106.10 L178.93,107.29 L179.10,108.47 L179.26,109.64 L179.41,110.78 L179.56,111.91 L179.70,113.00 L179.83,113.96 L179.95,114.90 L180.06,115.81 L180.17,116.71 L180.28,117.59 L180.39,118.47 L180.49,119.35 L180.59,120.23 L180.68,121.12 L180.78,122.02 L180.87,122.94 L180.96,123.88 L181.04,124.86 L181.13,125.86 L181.22,126.91 L181.30,128.00 L181.42,129.64 L181.52,131.33 L181.62,133.06 L181.72,134.83 L181.80,136.65 L181.88,138.52 L181.96,140.43 L182.04,142.40 L182.11,144.41 L182.19,146.47 L182.26,148.59 L182.34,150.76 L182.42,152.98 L182.51,155.27 L182.60,157.60 L182.70,160.00 L182.86,163.95 L183.03,168.30 L183.21,172.97 L183.40,177.91 L183.59,183.06 L183.78,188.36 L183.98,193.74 L184.19,199.15 L184.39,204.52 L184.60,209.79 L184.80,214.91 L185.01,219.81 L185.21,224.43 L185.41,228.71 L185.61,232.58 L185.80,236.00 L185.89,237.53 L185.99,238.97 L186.08,240.32 L186.16,241.60 L186.25,242.81 L186.34,243.97 L186.43,245.08 L186.52,246.17 L186.61,247.23 L186.70,248.29 L186.79,249.34 L186.89,250.41 L186.99,251.50 L187.09,252.62 L187.19,253.78 L187.30,255.00 L187.42,256.42 L187.53,257.89 L187.63,259.40 L187.73,260.95 L187.83,262.52 L187.93,264.10 L188.03,265.68 L188.14,267.26 L188.26,268.82 L188.40,270.35 L188.55,271.86 L188.71,273.31 L188.90,274.71 L189.11,276.05 L189.34,277.32 L189.60,278.50 L189.79,279.26 L189.99,280.00 L190.20,280.73 L190.41,281.45 L190.64,282.15 L190.87,282.83 L191.11,283.50 L191.35,284.14 L191.60,284.76 L191.86,285.35 L192.12,285.92 L192.39,286.46 L192.66,286.97 L192.94,287.45 L193.22,287.89 L193.50,288.30 L193.67,288.53 L193.85,288.75 L194.03,288.96 L194.21,289.16 L194.39,289.34 L194.57,289.52 L194.76,289.69 L194.95,289.84 L195.14,289.99 L195.33,290.13 L195.52,290.26 L195.71,290.38 L195.91,290.50 L196.10,290.60 L196.30,290.71 L196.50,290.80 L196.67,290.88 L196.85,290.95 L197.02,291.01 L197.20,291.06 L197.38,291.11 L197.56,291.16 L197.73,291.20 L197.92,291.23 L198.10,291.26 L198.28,291.28 L198.46,291.29 L198.65,291.30 L198.84,291.31 L199.02,291.31 L199.21,291.31 L199.40,291.30 L199.62,291.29 L199.84,291.27 L200.06,291.24 L200.29,291.21 L200.52,291.17 L200.75,291.12 L200.99,291.07 L201.22,291.01 L201.45,290.94 L201.68,290.87 L201.91,290.79 L202.14,290.71 L202.36,290.61 L202.58,290.52 L202.79,290.41 L203.00,290.30 L203.22,290.18 L203.43,290.05 L203.64,289.92 L203.85,289.78 L204.05,289.64 L204.25,289.49 L204.45,289.33 L204.65,289.16 L204.84,288.99 L205.03,288.80 L205.22,288.60 L205.40,288.39 L205.58,288.16 L205.76,287.93 L205.93,287.67 L206.10,287.40 L206.39,286.87 L206.67,286.29 L206.93,285.65 L207.19,284.96 L207.43,284.22 L207.66,283.45 L207.88,282.64 L208.10,281.80 L208.31,280.93 L208.51,280.05 L208.70,279.15 L208.89,278.24 L209.07,277.32 L209.25,276.41 L209.43,275.50 L209.60,274.60 L209.80,273.49 L210.00,272.36 L210.17,271.19 L210.34,270.00 L210.50,268.79 L210.65,267.56 L210.79,266.31 L210.93,265.06 L211.06,263.79 L211.18,262.52 L211.30,261.25 L211.42,259.98 L211.54,258.72 L211.66,257.47 L211.78,256.23 L211.90,255.00 L212.02,253.80 L212.14,252.59 L212.25,251.38 L212.37,250.16 L212.48,248.95 L212.59,247.73 L212.69,246.51 L212.79,245.30 L212.89,244.10 L212.99,242.90 L213.08,241.72 L213.17,240.54 L213.26,239.38 L213.34,238.24 L213.42,237.11 L213.50,236.00 L213.56,235.08 L213.62,234.21 L213.67,233.37 L213.72,232.55 L213.76,231.76 L213.80,230.97 L213.84,230.19 L213.88,229.41 L213.92,228.61 L213.96,227.79 L213.99,226.94 L214.03,226.06 L214.07,225.13 L214.11,224.15 L214.15,223.11 L214.20,222.00 L214.29,219.67 L214.38,217.04 L214.48,214.15 L214.57,211.05 L214.67,207.77 L214.77,204.35 L214.87,200.84 L214.97,197.28 L215.07,193.71 L215.17,190.17 L215.28,186.71 L215.38,183.37 L215.49,180.18 L215.59,177.20 L215.70,174.46 L215.80,172.00 L215.86,170.69 L215.92,169.43 L215.98,168.21 L216.04,167.05 L216.09,165.93 L216.15,164.84 L216.21,163.78 L216.27,162.75 L216.33,161.75 L216.39,160.76 L216.45,159.79 L216.52,158.83 L216.58,157.88 L216.65,156.92 L216.72,155.96 L216.80,155.00 L216.87,154.19 L216.93,153.40 L217.00,152.61 L217.07,151.84 L217.14,151.08 L217.21,150.32 L217.28,149.57 L217.36,148.83 L217.43,148.10 L217.51,147.37 L217.59,146.64 L217.67,145.91 L217.75,145.19 L217.83,144.46 L217.91,143.73 L218.00,143.00 L218.08,142.29 L218.16,141.58 L218.25,140.86 L218.33,140.13 L218.41,139.41 L218.49,138.69 L218.58,137.97 L218.66,137.25 L218.75,136.55 L218.85,135.85 L218.94,135.17 L219.05,134.50 L219.15,133.84 L219.26,133.21 L219.38,132.59 L219.50,132.00 L219.59,131.57 L219.69,131.14 L219.78,130.71 L219.87,130.30 L219.97,129.89 L220.07,129.48 L220.17,129.09 L220.27,128.70 L220.38,128.32 L220.49,127.95 L220.61,127.60 L220.73,127.25 L220.86,126.92 L221.00,126.60 L221.15,126.29 L221.30,126.00 L221.42,125.79 L221.54,125.58 L221.67,125.37 L221.80,125.16 L221.93,124.96 L222.06,124.77 L222.20,124.58 L222.34,124.40 L222.49,124.23 L222.64,124.07 L222.79,123.93 L222.94,123.79 L223.10,123.67 L223.26,123.56 L223.43,123.47 L223.60,123.40 L223.76,123.35 L223.93,123.32 L224.10,123.30 L224.27,123.30 L224.45,123.31 L224.64,123.33 L224.82,123.36 L225.01,123.40 L225.20,123.44 L225.39,123.49 L225.58,123.54 L225.77,123.60 L225.95,123.65 L226.14,123.70 L226.32,123.75 L226.50,123.80 L226.68,123.84 L226.86,123.89 L227.04,123.93 L227.22,123.97 L227.40,124.02 L227.58,124.07 L227.76,124.12 L227.94,124.17 L228.12,124.23 L228.30,124.30 L228.47,124.36 L228.64,124.44 L228.81,124.52 L228.98,124.60 L229.14,124.70 L229.30,124.80 L229.47,124.92 L229.64,125.06 L229.80,125.20 L229.96,125.35 L230.12,125.50 L230.27,125.67 L230.42,125.84 L230.57,126.01 L230.71,126.20 L230.86,126.38 L231.01,126.58 L231.16,126.77 L231.31,126.97 L231.47,127.18 L231.63,127.39 L231.80,127.60 L232.04,127.90 L232.29,128.22 L232.54,128.55 L232.79,128.90 L233.06,129.25 L233.32,129.62 L233.59,129.99 L233.86,130.37 L234.13,130.76 L234.40,131.15 L234.67,131.54 L234.94,131.93 L235.21,132.33 L235.48,132.72 L235.74,133.11 L236.00,133.50 L236.27,133.90 L236.54,134.31 L236.80,134.71 L237.07,135.12 L237.33,135.53 L237.60,135.94 L237.86,136.36 L238.12,136.78 L238.38,137.20 L238.64,137.62 L238.90,138.04 L239.16,138.47 L239.42,138.90 L239.68,139.33 L239.94,139.76 L240.20,140.20 L240.47,140.67 L240.75,141.14 L241.02,141.62 L241.29,142.11 L241.56,142.59 L241.83,143.09 L242.10,143.58 L242.36,144.07 L242.63,144.57 L242.90,145.06 L243.17,145.56 L243.43,146.05 L243.70,146.54 L243.97,147.03 L244.23,147.52 L244.50,148.00 L244.76,148.47 L245.01,148.93 L245.26,149.40 L245.51,149.87 L245.76,150.34 L246.01,150.81 L246.26,151.28 L246.51,151.74 L246.76,152.20 L247.02,152.66 L247.27,153.12 L247.53,153.57 L247.79,154.01 L248.06,154.45 L248.33,154.88 L248.60,155.30 L248.86,155.69 L249.11,156.07 L249.37,156.45 L249.63,156.83 L249.89,157.20 L250.15,157.57 L250.42,157.93 L250.68,158.30 L250.95,158.65 L251.23,159.00 L251.51,159.35 L251.80,159.69 L252.09,160.03 L252.38,160.36 L252.69,160.68 L253.00,161.00 L253.32,161.31 L253.65,161.62 L253.98,161.92 L254.32,162.21 L254.66,162.50 L255.02,162.79 L255.37,163.07 L255.73,163.34 L256.09,163.61 L256.46,163.88 L256.83,164.14 L257.20,164.40 L257.57,164.65 L257.95,164.91 L258.32,165.15 L258.70,165.40 L259.08,165.64 L259.45,165.88 L259.83,166.12 L260.22,166.35 L260.60,166.59 L260.99,166.81 L261.38,167.04 L261.77,167.26 L262.17,167.47 L262.56,167.68 L262.96,167.88 L263.36,168.08 L263.77,168.27 L264.18,168.45 L264.59,168.63 L265.00,168.80 L265.42,168.96 L265.84,169.12 L266.26,169.27 L266.69,169.41 L267.12,169.55 L267.55,169.68 L267.99,169.80 L268.42,169.92 L268.86,170.03 L269.30,170.14 L269.75,170.25 L270.19,170.35 L270.64,170.44 L271.09,170.53 L271.55,170.62 L272.00,170.70 L272.48,170.78 L272.94,170.85 L273.41,170.92 L273.87,170.98 L274.33,171.03 L274.79,171.08 L275.26,171.13 L275.73,171.16 L276.21,171.20 L276.71,171.23 L277.21,171.26 L277.73,171.29 L278.27,171.32 L278.82,171.35 L279.40,171.37 L280.00,171.40 L280.98,171.44 L282.00,171.47 L283.05,171.50 L284.13,171.51 L285.24,171.52 L286.39,171.53 L287.58,171.53 L288.80,171.53 L290.06,171.53 L291.36,171.52 L292.70,171.52 L294.07,171.51 L295.49,171.50 L296.95,171.50 L298.45,171.50 L300.00,171.50 L302.75,171.51 L305.70,171.51 L308.83,171.51 L312.13,171.51 L315.56,171.52 L319.12,171.52 L322.77,171.51 L326.50,171.51 L330.29,171.51 L334.11,171.51 L337.95,171.51 L341.78,171.50 L345.58,171.50 L349.33,171.50 L353.01,171.50 L356.60,171.50" stroke="#39568c" stroke-width="1.2"/>
<path d="M41.40,171.40 L43.54,171.40 L45.74,171.40 L47.98,171.40 L50.26,171.41 L52.56,171.41 L54.87,171.41 L57.16,171.41 L59.44,171.41 L61.67,171.42 L63.85,171.42 L65.96,171.42 L67.99,171.42 L69.92,171.41 L71.75,171.41 L73.44,171.41 L75.00,171.40 L75.79,171.40 L76.53,171.39 L77.24,171.39 L77.91,171.39 L78.56,171.39 L79.18,171.39 L79.78,171.39 L80.37,171.39 L80.94,171.39 L81.51,171.38 L82.07,171.38 L82.64,171.37 L83.21,171.36 L83.79,171.34 L84.39,171.32 L85.00,171.30 L85.63,171.28 L86.25,171.25 L86.88,171.22 L87.50,171.20 L88.13,171.17 L88.75,171.14 L89.38,171.10 L90.01,171.07 L90.63,171.03 L91.26,170.98 L91.88,170.93 L92.51,170.88 L93.13,170.82 L93.75,170.75 L94.38,170.68 L95.00,170.60 L95.63,170.51 L96.26,170.42 L96.90,170.32 L97.54,170.22 L98.17,170.11 L98.81,169.99 L99.45,169.88 L100.09,169.75 L100.72,169.62 L101.35,169.49 L101.97,169.35 L102.59,169.21 L103.21,169.06 L103.81,168.91 L104.41,168.76 L105.00,168.60 L105.53,168.45 L106.06,168.30 L106.58,168.15 L107.09,167.99 L107.60,167.83 L108.11,167.66 L108.61,167.49 L109.11,167.32 L109.61,167.14 L110.10,166.96 L110.59,166.78 L111.08,166.59 L111.56,166.40 L112.04,166.20 L112.52,166.00 L113.00,165.80 L113.46,165.60 L113.92,165.40 L114.38,165.19 L114.83,164.98 L115.29,164.77 L115.74,164.55 L116.19,164.33 L116.64,164.10 L117.08,163.88 L117.52,163.65 L117.95,163.41 L118.37,163.18 L118.79,162.94 L119.20,162.69 L119.61,162.45 L120.00,162.20 L120.35,161.98 L120.69,161.75 L121.02,161.52 L121.35,161.30 L121.67,161.07 L121.99,160.84 L122.30,160.60 L122.61,160.36 L122.91,160.12 L123.22,159.88 L123.52,159.63 L123.81,159.37 L124.11,159.11 L124.41,158.85 L124.70,158.58 L125.00,158.30 L125.32,157.99 L125.64,157.67 L125.97,157.33 L126.29,156.98 L126.62,156.63 L126.94,156.26 L127.26,155.90 L127.58,155.53 L127.89,155.16 L128.19,154.80 L128.48,154.44 L128.77,154.09 L129.05,153.75 L129.31,153.42 L129.56,153.10 L129.80,152.80 L129.95,152.61 L130.10,152.42 L130.23,152.25 L130.36,152.09 L130.49,151.92 L130.61,151.77 L130.73,151.61 L130.84,151.46 L130.95,151.30 L131.07,151.14 L131.18,150.98 L131.30,150.80 L131.42,150.62 L131.54,150.43 L131.67,150.22 L131.80,150.00 L132.03,149.60 L132.27,149.17 L132.52,148.71 L132.78,148.22 L133.04,147.71 L133.31,147.18 L133.58,146.63 L133.85,146.07 L134.12,145.50 L134.40,144.92 L134.67,144.34 L134.94,143.76 L135.21,143.18 L135.48,142.61 L135.74,142.05 L136.00,141.50 L136.26,140.95 L136.51,140.39 L136.76,139.83 L137.01,139.26 L137.26,138.70 L137.50,138.13 L137.74,137.57 L137.99,137.00 L138.23,136.43 L138.48,135.86 L138.73,135.30 L138.97,134.73 L139.23,134.17 L139.48,133.61 L139.74,133.05 L140.00,132.50 L140.26,131.96 L140.53,131.42 L140.80,130.89 L141.07,130.36 L141.34,129.83 L141.62,129.30 L141.90,128.77 L142.18,128.25 L142.46,127.72 L142.74,127.19 L143.02,126.67 L143.30,126.14 L143.57,125.61 L143.85,125.07 L144.13,124.54 L144.40,124.00 L144.68,123.44 L144.95,122.88 L145.23,122.32 L145.50,121.75 L145.78,121.18 L146.05,120.61 L146.32,120.03 L146.60,119.46 L146.87,118.89 L147.14,118.32 L147.42,117.75 L147.69,117.19 L147.97,116.63 L148.24,116.08 L148.52,115.54 L148.80,115.00 L149.06,114.51 L149.32,114.03 L149.57,113.55 L149.83,113.08 L150.09,112.61 L150.35,112.15 L150.60,111.69 L150.86,111.23 L151.12,110.77 L151.39,110.31 L151.65,109.85 L151.92,109.39 L152.18,108.92 L152.45,108.45 L152.72,107.98 L153.00,107.50 L153.30,106.98 L153.60,106.45 L153.90,105.92 L154.20,105.38 L154.51,104.84 L154.82,104.30 L155.13,103.76 L155.44,103.22 L155.76,102.67 L156.08,102.13 L156.39,101.60 L156.71,101.06 L157.03,100.54 L157.35,100.02 L157.68,99.50 L158.00,99.00 L158.30,98.54 L158.61,98.08 L158.91,97.62 L159.22,97.17 L159.53,96.72 L159.84,96.28 L160.15,95.84 L160.46,95.40 L160.78,94.96 L161.09,94.53 L161.41,94.10 L161.72,93.68 L162.04,93.25 L162.36,92.83 L162.68,92.42 L163.00,92.00 L163.31,91.60 L163.62,91.21 L163.94,90.81 L164.26,90.41 L164.58,90.01 L164.91,89.62 L165.23,89.22 L165.56,88.84 L165.88,88.45 L166.20,88.08 L166.51,87.71 L166.82,87.35 L167.13,86.99 L167.43,86.65 L167.72,86.32 L168.00,86.00 L168.20,85.77 L168.40,85.53 L168.60,85.30 L168.79,85.07 L168.98,84.85 L169.16,84.63 L169.35,84.41 L169.53,84.20 L169.71,84.00 L169.89,83.80 L170.07,83.61 L170.25,83.43 L170.44,83.26 L170.62,83.10 L170.81,82.94 L171.00,82.80 L171.15,82.69 L171.31,82.58 L171.47,82.47 L171.64,82.36 L171.80,82.26 L171.97,82.16 L172.13,82.06 L172.30,81.97 L172.46,81.89 L172.62,81.83 L172.78,81.77 L172.94,81.72 L173.09,81.69 L173.23,81.68 L173.37,81.68 L173.50,81.70 L173.62,81.73 L173.73,81.78 L173.83,81.84 L173.94,81.92 L174.04,82.00 L174.13,82.10 L174.23,82.20 L174.32,82.32 L174.41,82.44 L174.50,82.58 L174.58,82.72 L174.67,82.86 L174.75,83.01 L174.83,83.17 L174.92,83.33 L175.00,83.50 L175.16,83.84 L175.31,84.22 L175.45,84.63 L175.59,85.07 L175.72,85.54 L175.84,86.03 L175.96,86.55 L176.08,87.09 L176.20,87.66 L176.31,88.24 L176.42,88.83 L176.53,89.45 L176.65,90.07 L176.76,90.71 L176.88,91.35 L176.99,92.00 L177.18,93.06 L177.37,94.20 L177.56,95.40 L177.76,96.67 L177.95,97.98 L178.14,99.34 L178.32,100.72 L178.51,102.13 L178.69,103.54 L178.87,104.96 L179.04,106.38 L179.21,107.77 L179.37,109.14 L179.53,110.48 L179.68,111.77 L179.82,113.00 L179.93,114.00 L180.04,114.95 L180.14,115.89 L180.24,116.79 L180.33,117.68 L180.42,118.56 L180.51,119.43 L180.59,120.30 L180.67,121.18 L180.75,122.07 L180.83,122.98 L180.90,123.91 L180.98,124.87 L181.05,125.87 L181.13,126.91 L181.20,128.00 L181.31,129.65 L181.41,131.33 L181.50,133.06 L181.58,134.84 L181.67,136.65 L181.75,138.52 L181.82,140.43 L181.90,142.40 L181.97,144.41 L182.05,146.47 L182.12,148.59 L182.20,150.76 L182.28,152.98 L182.36,155.27 L182.45,157.60 L182.54,160.00 L182.69,163.95 L182.85,168.30 L183.01,172.97 L183.18,177.91 L183.36,183.06 L183.53,188.36 L183.71,193.74 L183.90,199.15 L184.08,204.52 L184.27,209.79 L184.45,214.91 L184.63,219.81 L184.82,224.43 L184.99,228.70 L185.17,232.58 L185.34,236.00 L185.42,237.53 L185.50,238.97 L185.58,240.32 L185.66,241.60 L185.74,242.82 L185.81,243.98 L185.89,245.10 L185.96,246.19 L186.04,247.25 L186.12,248.31 L186.20,249.36 L186.29,250.43 L186.37,251.52 L186.47,252.63 L186.56,253.79 L186.66,255.00 L186.77,256.38 L186.87,257.81 L186.96,259.27 L187.05,260.75 L187.14,262.26 L187.24,263.78 L187.34,265.30 L187.44,266.81 L187.56,268.31 L187.68,269.79 L187.82,271.23 L187.98,272.64 L188.15,274.00 L188.35,275.31 L188.57,276.55 L188.82,277.72 L189.01,278.51 L189.20,279.28 L189.41,280.05 L189.62,280.80 L189.84,281.54 L190.07,282.26 L190.30,282.96 L190.55,283.64 L190.80,284.30 L191.05,284.93 L191.32,285.54 L191.59,286.12 L191.86,286.67 L192.14,287.19 L192.43,287.67 L192.72,288.12 L192.91,288.38 L193.10,288.63 L193.29,288.87 L193.48,289.10 L193.68,289.32 L193.88,289.52 L194.08,289.72 L194.28,289.90 L194.49,290.07 L194.70,290.24 L194.91,290.39 L195.12,290.54 L195.34,290.68 L195.56,290.81 L195.78,290.93 L196.00,291.04 L196.20,291.13 L196.40,291.22 L196.61,291.30 L196.81,291.37 L197.02,291.43 L197.23,291.48 L197.44,291.53 L197.66,291.57 L197.87,291.61 L198.09,291.63 L198.30,291.66 L198.52,291.67 L198.74,291.68 L198.96,291.69 L199.18,291.69 L199.40,291.68 L199.64,291.67 L199.89,291.65 L200.14,291.62 L200.40,291.59 L200.66,291.54 L200.92,291.49 L201.17,291.44 L201.43,291.38 L201.69,291.30 L201.95,291.23 L202.20,291.14 L202.45,291.05 L202.70,290.95 L202.94,290.84 L203.17,290.72 L203.40,290.60 L203.63,290.46 L203.86,290.32 L204.09,290.18 L204.31,290.03 L204.53,289.87 L204.75,289.70 L204.96,289.53 L205.17,289.34 L205.38,289.14 L205.58,288.94 L205.78,288.72 L205.97,288.48 L206.16,288.24 L206.35,287.97 L206.54,287.70 L206.72,287.40 L207.03,286.83 L207.33,286.21 L207.61,285.52 L207.88,284.78 L208.14,283.99 L208.39,283.16 L208.64,282.29 L208.87,281.40 L209.09,280.48 L209.31,279.54 L209.52,278.59 L209.72,277.62 L209.92,276.66 L210.12,275.70 L210.31,274.75 L210.50,273.82 L210.71,272.73 L210.91,271.63 L211.09,270.50 L211.27,269.35 L211.43,268.19 L211.59,267.01 L211.74,265.82 L211.88,264.62 L212.02,263.42 L212.15,262.21 L212.28,261.00 L212.41,259.79 L212.54,258.58 L212.67,257.38 L212.80,256.19 L212.94,255.00 L213.08,253.81 L213.21,252.61 L213.35,251.40 L213.48,250.19 L213.62,248.97 L213.75,247.76 L213.88,246.54 L214.00,245.33 L214.13,244.12 L214.25,242.92 L214.37,241.73 L214.48,240.55 L214.59,239.39 L214.70,238.24 L214.80,237.11 L214.90,236.00 L214.98,235.08 L215.06,234.18 L215.13,233.31 L215.20,232.46 L215.26,231.62 L215.33,230.80 L215.39,229.98 L215.45,229.15 L215.51,228.33 L215.57,227.49 L215.62,226.64 L215.68,225.77 L215.73,224.88 L215.79,223.95 L215.84,223.00 L215.90,222.00 L215.98,220.55 L216.05,219.03 L216.12,217.45 L216.19,215.82 L216.26,214.14 L216.33,212.42 L216.39,210.68 L216.46,208.91 L216.52,207.14 L216.59,205.35 L216.65,203.57 L216.72,201.80 L216.79,200.05 L216.85,198.33 L216.93,196.64 L217.00,195.00 L217.07,193.51 L217.14,192.01 L217.21,190.52 L217.29,189.04 L217.36,187.56 L217.43,186.09 L217.51,184.62 L217.58,183.17 L217.66,181.72 L217.74,180.29 L217.81,178.87 L217.89,177.46 L217.97,176.07 L218.04,174.70 L218.12,173.34 L218.20,172.00 L218.27,170.86 L218.33,169.73 L218.40,168.61 L218.46,167.50 L218.53,166.40 L218.59,165.31 L218.66,164.22 L218.72,163.15 L218.79,162.09 L218.86,161.04 L218.93,160.01 L219.00,158.98 L219.07,157.97 L219.15,156.97 L219.22,155.98 L219.30,155.00 L219.37,154.19 L219.43,153.38 L219.49,152.58 L219.55,151.79 L219.61,151.01 L219.67,150.23 L219.74,149.47 L219.80,148.71 L219.87,147.96 L219.94,147.22 L220.02,146.49 L220.10,145.77 L220.19,145.06 L220.28,144.36 L220.39,143.68 L220.50,143.00 L220.60,142.45 L220.70,141.90 L220.81,141.35 L220.92,140.81 L221.03,140.27 L221.15,139.74 L221.27,139.22 L221.39,138.71 L221.52,138.20 L221.65,137.71 L221.78,137.22 L221.92,136.75 L222.06,136.29 L222.20,135.85 L222.35,135.42 L222.50,135.00 L222.61,134.70 L222.72,134.41 L222.83,134.12 L222.94,133.83 L223.05,133.55 L223.16,133.28 L223.27,133.01 L223.39,132.75 L223.51,132.50 L223.63,132.25 L223.76,132.02 L223.89,131.79 L224.03,131.58 L224.18,131.37 L224.34,131.18 L224.50,131.00 L224.64,130.86 L224.79,130.72 L224.94,130.59 L225.09,130.46 L225.25,130.34 L225.41,130.22 L225.58,130.12 L225.75,130.02 L225.92,129.92 L226.10,129.84 L226.28,129.76 L226.46,129.69 L226.64,129.63 L226.82,129.58 L227.01,129.53 L227.20,129.50 L227.42,129.48 L227.64,129.47 L227.86,129.47 L228.09,129.49 L228.33,129.52 L228.57,129.56 L228.81,129.61 L229.05,129.67 L229.29,129.73 L229.54,129.80 L229.79,129.88 L230.03,129.96 L230.28,130.04 L230.52,130.13 L230.76,130.21 L231.00,130.30 L231.26,130.40 L231.53,130.49 L231.79,130.60 L232.06,130.70 L232.32,130.81 L232.59,130.93 L232.85,131.05 L233.12,131.18 L233.38,131.31 L233.64,131.46 L233.91,131.61 L234.17,131.77 L234.43,131.93 L234.69,132.11 L234.94,132.30 L235.20,132.50 L235.53,132.78 L235.85,133.08 L236.17,133.40 L236.50,133.74 L236.82,134.09 L237.14,134.47 L237.46,134.85 L237.77,135.25 L238.08,135.65 L238.40,136.06 L238.70,136.47 L239.01,136.88 L239.31,137.29 L239.61,137.70 L239.91,138.10 L240.20,138.50 L240.49,138.89 L240.77,139.29 L241.05,139.69 L241.33,140.09 L241.60,140.50 L241.87,140.91 L242.13,141.32 L242.40,141.73 L242.66,142.14 L242.92,142.56 L243.19,142.97 L243.45,143.38 L243.71,143.79 L243.97,144.19 L244.23,144.60 L244.50,145.00 L244.76,145.39 L245.02,145.77 L245.27,146.15 L245.53,146.53 L245.78,146.91 L246.04,147.28 L246.30,147.66 L246.55,148.04 L246.81,148.41 L247.06,148.79 L247.32,149.17 L247.57,149.55 L247.83,149.93 L248.08,150.32 L248.34,150.71 L248.60,151.10 L248.87,151.52 L249.15,151.94 L249.42,152.38 L249.70,152.81 L249.97,153.25 L250.25,153.69 L250.52,154.13 L250.80,154.57 L251.08,155.01 L251.35,155.45 L251.63,155.88 L251.90,156.32 L252.18,156.75 L252.45,157.17 L252.73,157.59 L253.00,158.00 L253.25,158.38 L253.49,158.75 L253.74,159.13 L253.98,159.50 L254.22,159.87 L254.45,160.24 L254.69,160.61 L254.93,160.97 L255.17,161.33 L255.42,161.69 L255.67,162.04 L255.92,162.38 L256.18,162.72 L256.45,163.05 L256.72,163.38 L257.00,163.70 L257.28,164.01 L257.57,164.31 L257.86,164.60 L258.15,164.90 L258.45,165.19 L258.75,165.47 L259.06,165.75 L259.37,166.02 L259.69,166.29 L260.00,166.55 L260.33,166.81 L260.66,167.06 L260.99,167.30 L261.32,167.54 L261.66,167.77 L262.00,168.00 L262.35,168.22 L262.70,168.44 L263.05,168.65 L263.41,168.85 L263.78,169.05 L264.14,169.24 L264.52,169.43 L264.89,169.61 L265.27,169.79 L265.65,169.96 L266.04,170.12 L266.42,170.27 L266.81,170.41 L267.21,170.55 L267.60,170.68 L268.00,170.80 L268.41,170.91 L268.81,171.01 L269.20,171.10 L269.59,171.18 L269.98,171.25 L270.37,171.31 L270.77,171.37 L271.18,171.41 L271.59,171.46 L272.02,171.49 L272.46,171.53 L272.92,171.56 L273.41,171.60 L273.91,171.63 L274.44,171.66 L275.00,171.70 L276.12,171.76 L277.32,171.81 L278.59,171.85 L279.93,171.87 L281.33,171.89 L282.80,171.89 L284.33,171.89 L285.91,171.89 L287.53,171.87 L289.21,171.86 L290.93,171.84 L292.68,171.83 L294.47,171.82 L296.29,171.81 L298.13,171.80 L300.00,171.80 L302.91,171.80 L305.98,171.81 L309.20,171.81 L312.55,171.81 L316.00,171.81 L319.55,171.81 L323.18,171.81 L326.87,171.81 L330.61,171.81 L334.37,171.81 L338.15,171.81 L341.92,171.80 L345.66,171.80 L349.37,171.80 L353.02,171.80 L356.60,171.80" stroke="#2e6e8e" stroke-width="1.2"/>
<path d="M41.40,172.30 L42.89,172.31 L44.42,172.31 L45.97,172.32 L47.53,172.33 L49.11,172.34 L50.69,172.34 L52.26,172.35 L53.82,172.36 L55.37,172.36 L56.88,172.37 L58.36,172.38 L59.80,172.38 L61.19,172.39 L62.53,172.39 L63.80,172.40 L65.00,172.40 L65.74,172.40 L66.45,172.41 L67.14,172.42 L67.80,172.42 L68.44,172.43 L69.06,172.44 L69.67,172.45 L70.27,172.46 L70.85,172.46 L71.44,172.47 L72.02,172.47 L72.60,172.46 L73.19,172.46 L73.78,172.44 L74.38,172.42 L75.00,172.40 L75.63,172.37 L76.25,172.34 L76.88,172.31 L77.50,172.27 L78.13,172.23 L78.76,172.18 L79.38,172.14 L80.01,172.09 L80.63,172.03 L81.26,171.97 L81.88,171.91 L82.51,171.84 L83.13,171.76 L83.75,171.68 L84.38,171.59 L85.00,171.50 L85.63,171.40 L86.26,171.29 L86.88,171.18 L87.51,171.07 L88.14,170.94 L88.76,170.82 L89.39,170.68 L90.01,170.55 L90.64,170.40 L91.26,170.26 L91.89,170.11 L92.51,169.95 L93.13,169.80 L93.76,169.63 L94.38,169.47 L95.00,169.30 L95.63,169.12 L96.27,168.94 L96.90,168.76 L97.54,168.56 L98.18,168.37 L98.82,168.17 L99.45,167.96 L100.09,167.75 L100.72,167.54 L101.35,167.33 L101.97,167.11 L102.59,166.89 L103.21,166.67 L103.81,166.45 L104.41,166.22 L105.00,166.00 L105.53,165.80 L106.06,165.59 L106.58,165.39 L107.09,165.18 L107.60,164.97 L108.11,164.76 L108.62,164.55 L109.12,164.34 L109.61,164.12 L110.10,163.90 L110.59,163.68 L111.08,163.45 L111.56,163.22 L112.05,162.99 L112.52,162.75 L113.00,162.50 L113.46,162.26 L113.92,162.02 L114.38,161.77 L114.83,161.52 L115.29,161.27 L115.74,161.02 L116.19,160.76 L116.63,160.50 L117.07,160.23 L117.51,159.96 L117.94,159.68 L118.36,159.40 L118.78,159.11 L119.19,158.81 L119.60,158.51 L120.00,158.20 L120.39,157.89 L120.77,157.57 L121.14,157.25 L121.51,156.92 L121.87,156.58 L122.22,156.24 L122.57,155.90 L122.92,155.55 L123.26,155.19 L123.60,154.83 L123.94,154.46 L124.27,154.08 L124.61,153.70 L124.94,153.30 L125.27,152.91 L125.60,152.50 L125.97,152.03 L126.35,151.53 L126.72,151.02 L127.09,150.50 L127.46,149.96 L127.83,149.42 L128.20,148.86 L128.56,148.31 L128.91,147.75 L129.26,147.19 L129.60,146.63 L129.94,146.08 L130.27,145.54 L130.59,145.02 L130.90,144.50 L131.20,144.00 L131.44,143.61 L131.66,143.23 L131.88,142.86 L132.08,142.50 L132.28,142.15 L132.48,141.80 L132.67,141.45 L132.86,141.11 L133.05,140.76 L133.24,140.40 L133.43,140.04 L133.63,139.66 L133.83,139.27 L134.04,138.87 L134.27,138.44 L134.50,138.00 L134.87,137.29 L135.27,136.54 L135.68,135.74 L136.10,134.92 L136.54,134.07 L136.99,133.19 L137.44,132.30 L137.91,131.38 L138.37,130.46 L138.84,129.52 L139.30,128.59 L139.76,127.65 L140.21,126.72 L140.65,125.80 L141.08,124.89 L141.50,124.00 L141.90,123.13 L142.29,122.24 L142.68,121.35 L143.05,120.45 L143.43,119.55 L143.80,118.65 L144.17,117.75 L144.53,116.85 L144.90,115.95 L145.26,115.07 L145.63,114.19 L145.99,113.32 L146.36,112.47 L146.74,111.63 L147.12,110.80 L147.50,110.00 L147.83,109.32 L148.17,108.65 L148.50,108.00 L148.83,107.35 L149.16,106.72 L149.49,106.09 L149.82,105.47 L150.15,104.86 L150.49,104.25 L150.83,103.64 L151.18,103.03 L151.53,102.43 L151.89,101.83 L152.25,101.22 L152.62,100.61 L153.00,100.00 L153.40,99.36 L153.82,98.73 L154.24,98.10 L154.67,97.46 L155.11,96.83 L155.56,96.20 L156.00,95.58 L156.46,94.95 L156.91,94.32 L157.36,93.70 L157.82,93.08 L158.26,92.46 L158.71,91.84 L159.15,91.23 L159.58,90.61 L160.00,90.00 L160.39,89.42 L160.78,88.84 L161.16,88.26 L161.55,87.68 L161.93,87.10 L162.30,86.52 L162.68,85.95 L163.05,85.37 L163.42,84.80 L163.80,84.24 L164.16,83.68 L164.53,83.13 L164.90,82.58 L165.27,82.04 L165.63,81.52 L166.00,81.00 L166.32,80.55 L166.63,80.10 L166.95,79.65 L167.26,79.20 L167.57,78.76 L167.89,78.31 L168.20,77.88 L168.51,77.45 L168.82,77.03 L169.13,76.62 L169.44,76.22 L169.75,75.84 L170.06,75.48 L170.37,75.13 L170.68,74.81 L171.00,74.50 L171.24,74.28 L171.48,74.05 L171.73,73.81 L171.98,73.58 L172.24,73.35 L172.49,73.13 L172.74,72.92 L173.00,72.72 L173.24,72.54 L173.49,72.37 L173.73,72.24 L173.96,72.12 L174.19,72.04 L174.40,71.99 L174.61,71.97 L174.80,72.00 L174.98,72.07 L175.16,72.17 L175.33,72.31 L175.49,72.47 L175.64,72.67 L175.79,72.90 L175.94,73.14 L176.07,73.41 L176.20,73.70 L176.33,74.00 L176.45,74.32 L176.57,74.64 L176.68,74.98 L176.79,75.32 L176.90,75.66 L177.00,76.00 L177.16,76.62 L177.30,77.30 L177.42,78.03 L177.51,78.79 L177.59,79.60 L177.65,80.45 L177.71,81.32 L177.75,82.23 L177.78,83.16 L177.82,84.11 L177.85,85.07 L177.88,86.05 L177.93,87.03 L177.97,88.02 L178.03,89.01 L178.11,90.00 L178.22,91.27 L178.33,92.55 L178.45,93.84 L178.57,95.16 L178.70,96.49 L178.83,97.85 L178.96,99.23 L179.10,100.63 L179.23,102.07 L179.36,103.53 L179.50,105.02 L179.63,106.54 L179.75,108.10 L179.88,109.69 L179.99,111.33 L180.11,113.00 L180.26,115.46 L180.41,118.00 L180.56,120.62 L180.70,123.31 L180.83,126.08 L180.96,128.91 L181.09,131.80 L181.21,134.76 L181.34,137.76 L181.46,140.82 L181.57,143.92 L181.69,147.07 L181.81,150.25 L181.92,153.47 L182.04,156.72 L182.16,160.00 L182.30,164.34 L182.45,168.98 L182.59,173.85 L182.73,178.91 L182.86,184.11 L183.00,189.39 L183.13,194.72 L183.26,200.03 L183.39,205.28 L183.51,210.41 L183.64,215.38 L183.76,220.14 L183.88,224.63 L184.00,228.80 L184.12,232.61 L184.24,236.00 L184.29,237.53 L184.35,238.98 L184.40,240.33 L184.45,241.62 L184.49,242.85 L184.54,244.02 L184.59,245.14 L184.63,246.24 L184.68,247.31 L184.73,248.37 L184.79,249.43 L184.85,250.49 L184.91,251.57 L184.97,252.67 L185.05,253.81 L185.12,255.00 L185.21,256.29 L185.28,257.60 L185.36,258.94 L185.43,260.29 L185.50,261.65 L185.58,263.02 L185.66,264.39 L185.75,265.75 L185.85,267.11 L185.96,268.44 L186.08,269.76 L186.21,271.05 L186.37,272.31 L186.54,273.53 L186.73,274.71 L186.95,275.85 L187.13,276.70 L187.32,277.55 L187.51,278.40 L187.71,279.24 L187.93,280.06 L188.15,280.87 L188.37,281.67 L188.61,282.45 L188.86,283.20 L189.11,283.93 L189.38,284.64 L189.65,285.32 L189.94,285.96 L190.23,286.58 L190.53,287.15 L190.85,287.69 L191.06,288.03 L191.28,288.35 L191.51,288.66 L191.73,288.96 L191.97,289.25 L192.20,289.53 L192.44,289.79 L192.69,290.04 L192.94,290.28 L193.19,290.50 L193.45,290.72 L193.71,290.92 L193.98,291.11 L194.25,291.29 L194.52,291.46 L194.80,291.62 L195.06,291.75 L195.33,291.87 L195.60,291.99 L195.88,292.09 L196.16,292.18 L196.45,292.26 L196.74,292.33 L197.03,292.40 L197.33,292.45 L197.62,292.49 L197.92,292.53 L198.22,292.56 L198.51,292.58 L198.81,292.59 L199.11,292.59 L199.40,292.59 L199.71,292.58 L200.02,292.56 L200.34,292.53 L200.66,292.50 L200.98,292.45 L201.30,292.39 L201.62,292.33 L201.95,292.26 L202.27,292.17 L202.58,292.08 L202.89,291.98 L203.20,291.87 L203.50,291.74 L203.80,291.61 L204.08,291.47 L204.36,291.32 L204.64,291.15 L204.91,290.98 L205.18,290.80 L205.44,290.61 L205.69,290.42 L205.94,290.21 L206.18,289.99 L206.42,289.76 L206.66,289.52 L206.89,289.26 L207.12,288.99 L207.34,288.71 L207.56,288.41 L207.78,288.09 L208.00,287.75 L208.21,287.40 L208.56,286.74 L208.91,286.00 L209.23,285.20 L209.55,284.33 L209.86,283.42 L210.15,282.45 L210.44,281.45 L210.71,280.42 L210.98,279.37 L211.24,278.30 L211.49,277.22 L211.73,276.14 L211.97,275.06 L212.21,274.00 L212.43,272.96 L212.66,271.95 L212.89,270.92 L213.10,269.88 L213.31,268.85 L213.51,267.81 L213.70,266.76 L213.89,265.71 L214.07,264.66 L214.24,263.60 L214.40,262.54 L214.56,261.48 L214.72,260.41 L214.87,259.33 L215.01,258.26 L215.16,257.18 L215.30,256.09 L215.44,255.00 L215.57,253.84 L215.69,252.66 L215.79,251.46 L215.87,250.26 L215.95,249.04 L216.02,247.82 L216.09,246.60 L216.16,245.38 L216.23,244.16 L216.31,242.94 L216.40,241.74 L216.50,240.56 L216.62,239.38 L216.76,238.23 L216.92,237.10 L217.10,236.00 L217.28,235.07 L217.49,234.16 L217.71,233.27 L217.95,232.41 L218.21,231.56 L218.47,230.72 L218.74,229.89 L219.01,229.06 L219.29,228.23 L219.56,227.39 L219.83,226.55 L220.09,225.68 L220.34,224.80 L220.58,223.90 L220.80,222.96 L221.00,222.00 L221.23,220.77 L221.44,219.50 L221.64,218.20 L221.83,216.87 L222.00,215.52 L222.17,214.14 L222.33,212.75 L222.47,211.34 L222.61,209.93 L222.75,208.50 L222.88,207.07 L223.01,205.64 L223.13,204.22 L223.25,202.80 L223.38,201.39 L223.50,200.00 L223.62,198.59 L223.73,197.16 L223.83,195.70 L223.92,194.24 L224.00,192.77 L224.08,191.29 L224.16,189.82 L224.23,188.35 L224.31,186.90 L224.38,185.46 L224.47,184.05 L224.56,182.66 L224.65,181.31 L224.76,180.00 L224.87,178.72 L225.00,177.50 L225.10,176.61 L225.21,175.75 L225.31,174.91 L225.42,174.09 L225.53,173.29 L225.64,172.50 L225.76,171.72 L225.88,170.96 L226.00,170.20 L226.13,169.46 L226.26,168.71 L226.40,167.97 L226.54,167.23 L226.69,166.49 L226.84,165.75 L227.00,165.00 L227.16,164.28 L227.31,163.56 L227.47,162.84 L227.64,162.12 L227.81,161.39 L227.98,160.67 L228.16,159.95 L228.34,159.25 L228.53,158.54 L228.72,157.85 L228.92,157.17 L229.12,156.50 L229.33,155.85 L229.55,155.21 L229.77,154.60 L230.00,154.00 L230.19,153.53 L230.38,153.06 L230.57,152.60 L230.77,152.14 L230.97,151.69 L231.17,151.25 L231.38,150.82 L231.59,150.39 L231.80,149.98 L232.03,149.58 L232.25,149.19 L232.49,148.82 L232.73,148.46 L232.98,148.12 L233.23,147.80 L233.50,147.50 L233.72,147.26 L233.95,147.03 L234.18,146.80 L234.42,146.57 L234.66,146.35 L234.91,146.13 L235.16,145.93 L235.41,145.74 L235.67,145.57 L235.93,145.41 L236.19,145.27 L236.45,145.14 L236.72,145.05 L236.98,144.97 L237.24,144.92 L237.50,144.90 L237.77,144.91 L238.05,144.95 L238.33,145.02 L238.61,145.12 L238.89,145.24 L239.17,145.38 L239.46,145.54 L239.74,145.72 L240.03,145.92 L240.31,146.13 L240.60,146.34 L240.88,146.57 L241.17,146.80 L241.45,147.03 L241.72,147.27 L242.00,147.50 L242.35,147.81 L242.69,148.14 L243.03,148.50 L243.37,148.88 L243.71,149.27 L244.05,149.68 L244.38,150.10 L244.71,150.53 L245.05,150.97 L245.38,151.41 L245.71,151.85 L246.05,152.29 L246.38,152.73 L246.72,153.17 L247.06,153.59 L247.40,154.00 L247.75,154.41 L248.09,154.82 L248.44,155.23 L248.78,155.64 L249.13,156.05 L249.48,156.46 L249.83,156.88 L250.18,157.29 L250.53,157.70 L250.88,158.10 L251.23,158.51 L251.58,158.91 L251.94,159.31 L252.29,159.71 L252.64,160.11 L253.00,160.50 L253.34,160.88 L253.68,161.26 L254.02,161.65 L254.36,162.03 L254.70,162.42 L255.04,162.80 L255.38,163.18 L255.72,163.55 L256.06,163.93 L256.41,164.29 L256.76,164.65 L257.12,165.00 L257.48,165.34 L257.85,165.67 L258.22,165.99 L258.60,166.30 L258.97,166.58 L259.35,166.86 L259.73,167.13 L260.11,167.40 L260.50,167.65 L260.90,167.90 L261.29,168.15 L261.69,168.38 L262.10,168.61 L262.51,168.83 L262.92,169.04 L263.33,169.25 L263.74,169.45 L264.16,169.64 L264.58,169.82 L265.00,170.00 L265.41,170.17 L265.83,170.32 L266.24,170.47 L266.65,170.61 L267.06,170.74 L267.48,170.86 L267.89,170.98 L268.31,171.09 L268.74,171.20 L269.18,171.30 L269.62,171.39 L270.07,171.48 L270.54,171.56 L271.01,171.65 L271.50,171.72 L272.00,171.80 L272.68,171.89 L273.36,171.97 L274.03,172.03 L274.71,172.09 L275.41,172.13 L276.11,172.16 L276.84,172.19 L277.59,172.21 L278.37,172.22 L279.18,172.23 L280.03,172.24 L280.92,172.25 L281.86,172.26 L282.85,172.27 L283.89,172.28 L285.00,172.30 L287.89,172.35 L291.19,172.38 L294.86,172.40 L298.85,172.42 L303.12,172.42 L307.63,172.42 L312.34,172.41 L317.20,172.40 L322.17,172.39 L327.22,172.37 L332.29,172.36 L337.35,172.34 L342.35,172.32 L347.26,172.31 L352.02,172.30 L356.60,172.30" stroke="#26828e" stroke-width="1.2"/>
<path d="M41.40,172.90 L42.57,172.90 L43.76,172.90 L44.97,172.90 L46.18,172.90 L47.40,172.91 L48.63,172.91 L49.85,172.91 L51.06,172.91 L52.26,172.91 L53.44,172.91 L54.61,172.91 L55.75,172.91 L56.87,172.91 L57.95,172.91 L58.99,172.90 L60.00,172.90 L60.71,172.90 L61.40,172.90 L62.07,172.90 L62.72,172.90 L63.35,172.90 L63.98,172.90 L64.59,172.90 L65.19,172.90 L65.79,172.90 L66.39,172.89 L66.98,172.89 L67.57,172.88 L68.17,172.86 L68.77,172.85 L69.38,172.83 L70.00,172.80 L70.63,172.77 L71.25,172.74 L71.88,172.71 L72.50,172.68 L73.13,172.64 L73.75,172.60 L74.38,172.56 L75.01,172.52 L75.63,172.47 L76.26,172.42 L76.88,172.36 L77.51,172.30 L78.13,172.23 L78.75,172.16 L79.38,172.08 L80.00,172.00 L80.63,171.91 L81.25,171.82 L81.88,171.72 L82.51,171.61 L83.14,171.50 L83.76,171.39 L84.39,171.27 L85.01,171.15 L85.64,171.02 L86.26,170.89 L86.89,170.75 L87.51,170.61 L88.14,170.46 L88.76,170.31 L89.38,170.16 L90.00,170.00 L90.63,169.84 L91.26,169.67 L91.89,169.49 L92.52,169.32 L93.14,169.14 L93.77,168.95 L94.40,168.76 L95.03,168.56 L95.65,168.36 L96.28,168.16 L96.90,167.95 L97.52,167.73 L98.14,167.51 L98.76,167.28 L99.38,167.04 L100.00,166.80 L100.63,166.55 L101.27,166.29 L101.90,166.02 L102.53,165.75 L103.16,165.47 L103.79,165.19 L104.42,164.90 L105.05,164.61 L105.67,164.31 L106.30,164.00 L106.92,163.69 L107.54,163.36 L108.16,163.04 L108.77,162.70 L109.39,162.35 L110.00,162.00 L110.65,161.62 L111.30,161.23 L111.96,160.83 L112.62,160.41 L113.28,159.99 L113.95,159.57 L114.61,159.13 L115.26,158.69 L115.91,158.24 L116.54,157.79 L117.16,157.33 L117.77,156.87 L118.36,156.40 L118.93,155.94 L119.48,155.47 L120.00,155.00 L120.42,154.60 L120.83,154.20 L121.23,153.80 L121.61,153.40 L121.97,153.00 L122.33,152.59 L122.68,152.18 L123.02,151.77 L123.35,151.35 L123.68,150.93 L124.01,150.50 L124.33,150.07 L124.64,149.64 L124.96,149.20 L125.28,148.75 L125.60,148.30 L125.93,147.82 L126.26,147.34 L126.57,146.87 L126.88,146.38 L127.18,145.90 L127.48,145.41 L127.77,144.92 L128.07,144.41 L128.36,143.90 L128.65,143.38 L128.95,142.85 L129.24,142.31 L129.55,141.76 L129.86,141.19 L130.17,140.60 L130.50,140.00 L130.96,139.14 L131.43,138.24 L131.91,137.30 L132.40,136.33 L132.90,135.32 L133.40,134.29 L133.91,133.25 L134.42,132.19 L134.93,131.13 L135.44,130.07 L135.95,129.01 L136.46,127.96 L136.96,126.93 L137.45,125.93 L137.93,124.95 L138.40,124.00 L138.80,123.20 L139.20,122.42 L139.59,121.66 L139.98,120.90 L140.37,120.16 L140.75,119.42 L141.13,118.69 L141.51,117.96 L141.89,117.23 L142.26,116.50 L142.64,115.77 L143.01,115.04 L143.38,114.29 L143.76,113.54 L144.13,112.78 L144.50,112.00 L144.90,111.16 L145.29,110.32 L145.69,109.47 L146.08,108.62 L146.47,107.77 L146.87,106.91 L147.26,106.04 L147.64,105.17 L148.03,104.30 L148.42,103.42 L148.80,102.53 L149.19,101.64 L149.57,100.74 L149.95,99.83 L150.32,98.92 L150.70,98.00 L151.11,96.99 L151.51,95.98 L151.90,94.95 L152.30,93.92 L152.69,92.89 L153.08,91.84 L153.47,90.79 L153.86,89.73 L154.24,88.66 L154.63,87.59 L155.02,86.51 L155.41,85.42 L155.80,84.33 L156.20,83.23 L156.60,82.12 L157.00,81.00 L157.45,79.74 L157.92,78.46 L158.39,77.14 L158.86,75.81 L159.34,74.46 L159.83,73.11 L160.31,71.74 L160.79,70.38 L161.27,69.02 L161.75,67.67 L162.21,66.33 L162.68,65.01 L163.13,63.71 L163.56,62.44 L163.99,61.20 L164.40,60.00 L164.72,59.04 L165.04,58.09 L165.35,57.15 L165.66,56.21 L165.96,55.29 L166.25,54.37 L166.54,53.47 L166.83,52.58 L167.11,51.70 L167.39,50.84 L167.66,49.99 L167.93,49.16 L168.20,48.34 L168.47,47.54 L168.74,46.76 L169.00,46.00 L169.20,45.43 L169.40,44.86 L169.59,44.30 L169.78,43.74 L169.97,43.19 L170.15,42.65 L170.34,42.12 L170.52,41.60 L170.70,41.09 L170.89,40.60 L171.07,40.12 L171.25,39.66 L171.44,39.21 L171.62,38.79 L171.81,38.38 L172.00,38.00 L172.12,37.75 L172.25,37.50 L172.38,37.24 L172.51,36.98 L172.64,36.72 L172.77,36.47 L172.90,36.23 L173.03,36.00 L173.15,35.78 L173.28,35.59 L173.41,35.42 L173.53,35.27 L173.65,35.15 L173.77,35.06 L173.89,35.01 L174.00,35.00 L174.11,35.03 L174.23,35.10 L174.34,35.21 L174.45,35.35 L174.57,35.52 L174.67,35.72 L174.78,35.94 L174.89,36.19 L174.99,36.45 L175.09,36.72 L175.18,37.01 L175.27,37.31 L175.36,37.61 L175.45,37.91 L175.53,38.21 L175.60,38.50 L175.71,39.02 L175.81,39.58 L175.88,40.17 L175.94,40.79 L175.99,41.44 L176.03,42.11 L176.05,42.82 L176.07,43.54 L176.09,44.29 L176.10,45.06 L176.12,45.85 L176.13,46.65 L176.15,47.47 L176.17,48.30 L176.21,49.15 L176.25,50.00 L176.33,51.29 L176.41,52.63 L176.49,54.02 L176.58,55.45 L176.66,56.93 L176.76,58.44 L176.85,59.99 L176.95,61.58 L177.04,63.19 L177.14,64.82 L177.25,66.48 L177.35,68.16 L177.45,69.85 L177.56,71.56 L177.67,73.28 L177.77,75.00 L177.91,77.15 L178.05,79.34 L178.20,81.58 L178.36,83.85 L178.51,86.15 L178.67,88.49 L178.83,90.86 L179.00,93.25 L179.16,95.67 L179.32,98.10 L179.48,100.56 L179.63,103.03 L179.79,105.51 L179.93,108.00 L180.07,110.50 L180.20,113.00 L180.34,115.78 L180.48,118.56 L180.61,121.34 L180.73,124.13 L180.85,126.94 L180.97,129.76 L181.08,132.61 L181.19,135.48 L181.30,138.39 L181.41,141.33 L181.51,144.31 L181.62,147.34 L181.72,150.42 L181.82,153.55 L181.92,156.74 L182.03,160.00 L182.16,164.34 L182.29,168.98 L182.41,173.85 L182.54,178.91 L182.66,184.11 L182.78,189.39 L182.90,194.72 L183.01,200.03 L183.12,205.28 L183.24,210.41 L183.35,215.38 L183.45,220.14 L183.56,224.63 L183.66,228.80 L183.77,232.61 L183.87,236.00 L183.92,237.53 L183.96,238.98 L184.00,240.34 L184.04,241.63 L184.08,242.85 L184.12,244.03 L184.15,245.16 L184.19,246.26 L184.23,247.33 L184.27,248.39 L184.32,249.45 L184.37,250.51 L184.42,251.58 L184.48,252.68 L184.54,253.82 L184.61,255.00 L184.69,256.26 L184.76,257.54 L184.82,258.83 L184.89,260.14 L184.96,261.45 L185.03,262.77 L185.10,264.09 L185.19,265.41 L185.28,266.71 L185.38,268.00 L185.50,269.28 L185.63,270.53 L185.77,271.75 L185.93,272.95 L186.12,274.11 L186.32,275.22 L186.50,276.10 L186.69,276.98 L186.88,277.85 L187.08,278.71 L187.29,279.57 L187.50,280.41 L187.73,281.24 L187.97,282.05 L188.21,282.83 L188.47,283.60 L188.73,284.34 L189.01,285.05 L189.30,285.73 L189.59,286.37 L189.90,286.98 L190.22,287.54 L190.45,287.91 L190.68,288.26 L190.91,288.60 L191.15,288.92 L191.40,289.23 L191.64,289.53 L191.90,289.81 L192.16,290.08 L192.42,290.34 L192.69,290.59 L192.96,290.82 L193.24,291.05 L193.52,291.25 L193.81,291.45 L194.10,291.64 L194.40,291.81 L194.68,291.96 L194.97,292.09 L195.27,292.22 L195.57,292.33 L195.88,292.43 L196.19,292.52 L196.51,292.60 L196.82,292.67 L197.15,292.73 L197.47,292.78 L197.79,292.82 L198.12,292.85 L198.44,292.88 L198.76,292.89 L199.08,292.90 L199.40,292.90 L199.73,292.89 L200.06,292.87 L200.40,292.84 L200.74,292.80 L201.09,292.75 L201.43,292.69 L201.77,292.63 L202.12,292.55 L202.46,292.46 L202.79,292.37 L203.13,292.26 L203.45,292.14 L203.77,292.01 L204.08,291.87 L204.39,291.72 L204.68,291.56 L204.97,291.38 L205.26,291.20 L205.54,291.01 L205.81,290.81 L206.08,290.60 L206.34,290.38 L206.59,290.15 L206.84,289.90 L207.09,289.64 L207.33,289.37 L207.56,289.08 L207.80,288.78 L208.03,288.46 L208.26,288.13 L208.48,287.77 L208.70,287.40 L209.07,286.71 L209.43,285.94 L209.78,285.09 L210.11,284.19 L210.43,283.22 L210.74,282.22 L211.03,281.17 L211.32,280.09 L211.60,278.99 L211.88,277.87 L212.14,276.75 L212.40,275.63 L212.65,274.52 L212.90,273.43 L213.14,272.36 L213.38,271.32 L213.61,270.32 L213.83,269.31 L214.03,268.30 L214.23,267.30 L214.41,266.29 L214.59,265.28 L214.76,264.27 L214.93,263.26 L215.10,262.25 L215.26,261.23 L215.42,260.20 L215.59,259.18 L215.75,258.14 L215.92,257.10 L216.09,256.06 L216.27,255.00 L216.46,253.85 L216.65,252.67 L216.83,251.48 L217.01,250.28 L217.19,249.07 L217.37,247.84 L217.55,246.62 L217.73,245.40 L217.91,244.18 L218.10,242.96 L218.30,241.76 L218.50,240.57 L218.71,239.39 L218.93,238.24 L219.16,237.10 L219.40,236.00 L219.62,235.07 L219.84,234.17 L220.07,233.29 L220.30,232.44 L220.53,231.60 L220.77,230.77 L221.02,229.95 L221.27,229.13 L221.52,228.30 L221.79,227.47 L222.05,226.62 L222.33,225.76 L222.61,224.87 L222.90,223.95 L223.20,222.99 L223.50,222.00 L223.94,220.55 L224.42,219.00 L224.92,217.37 L225.44,215.68 L225.98,213.94 L226.53,212.16 L227.09,210.35 L227.66,208.54 L228.23,206.72 L228.79,204.93 L229.35,203.17 L229.90,201.45 L230.43,199.79 L230.95,198.20 L231.44,196.70 L231.90,195.30 L232.20,194.39 L232.51,193.49 L232.81,192.61 L233.11,191.75 L233.40,190.90 L233.69,190.08 L233.97,189.27 L234.25,188.48 L234.53,187.71 L234.79,186.97 L235.05,186.24 L235.30,185.55 L235.54,184.87 L235.77,184.22 L235.99,183.60 L236.20,183.00 L236.32,182.65 L236.43,182.32 L236.53,182.01 L236.63,181.71 L236.73,181.42 L236.82,181.14 L236.90,180.87 L236.99,180.61 L237.08,180.34 L237.16,180.08 L237.26,179.82 L237.35,179.55 L237.45,179.28 L237.56,178.99 L237.68,178.70 L237.80,178.40 L237.97,178.00 L238.14,177.59 L238.32,177.16 L238.52,176.72 L238.71,176.26 L238.92,175.80 L239.13,175.34 L239.34,174.88 L239.56,174.43 L239.78,173.99 L240.00,173.55 L240.22,173.14 L240.44,172.74 L240.66,172.37 L240.88,172.02 L241.10,171.70 L241.24,171.50 L241.39,171.31 L241.53,171.12 L241.67,170.94 L241.82,170.77 L241.96,170.61 L242.11,170.45 L242.25,170.29 L242.40,170.15 L242.55,170.01 L242.70,169.87 L242.85,169.75 L243.01,169.63 L243.17,169.51 L243.33,169.40 L243.50,169.30 L243.66,169.21 L243.82,169.12 L243.98,169.04 L244.14,168.96 L244.31,168.89 L244.48,168.83 L244.65,168.76 L244.82,168.71 L245.00,168.66 L245.17,168.62 L245.35,168.58 L245.54,168.55 L245.72,168.53 L245.91,168.51 L246.10,168.50 L246.30,168.50 L246.56,168.51 L246.83,168.54 L247.11,168.59 L247.39,168.65 L247.68,168.72 L247.97,168.80 L248.27,168.90 L248.57,169.00 L248.87,169.11 L249.18,169.23 L249.48,169.35 L249.79,169.48 L250.09,169.61 L250.40,169.74 L250.70,169.87 L251.00,170.00 L251.33,170.15 L251.67,170.31 L252.00,170.49 L252.33,170.67 L252.67,170.86 L253.00,171.06 L253.34,171.26 L253.67,171.46 L254.01,171.67 L254.35,171.87 L254.69,172.07 L255.03,172.27 L255.37,172.47 L255.71,172.65 L256.05,172.83 L256.40,173.00 L256.74,173.16 L257.09,173.32 L257.45,173.47 L257.80,173.62 L258.16,173.77 L258.52,173.92 L258.88,174.06 L259.24,174.20 L259.60,174.34 L259.95,174.47 L260.31,174.60 L260.65,174.73 L261.00,174.85 L261.34,174.97 L261.67,175.09 L262.00,175.20 L262.27,175.29 L262.53,175.38 L262.78,175.47 L263.03,175.56 L263.28,175.65 L263.52,175.73 L263.76,175.81 L264.00,175.89 L264.25,175.97 L264.49,176.04 L264.73,176.11 L264.98,176.18 L265.23,176.24 L265.48,176.30 L265.74,176.35 L266.00,176.40 L266.29,176.45 L266.58,176.49 L266.88,176.54 L267.17,176.57 L267.47,176.60 L267.76,176.63 L268.07,176.66 L268.37,176.68 L268.68,176.69 L268.99,176.70 L269.31,176.71 L269.63,176.72 L269.96,176.72 L270.30,176.72 L270.65,176.71 L271.00,176.70 L271.49,176.68 L272.00,176.65 L272.52,176.60 L273.06,176.55 L273.60,176.48 L274.16,176.42 L274.73,176.34 L275.31,176.26 L275.89,176.18 L276.48,176.09 L277.06,176.00 L277.66,175.92 L278.25,175.83 L278.83,175.75 L279.42,175.67 L280.00,175.60 L280.61,175.53 L281.22,175.45 L281.84,175.37 L282.46,175.29 L283.09,175.21 L283.71,175.14 L284.34,175.06 L284.97,174.98 L285.60,174.90 L286.23,174.82 L286.86,174.75 L287.49,174.67 L288.12,174.60 L288.75,174.53 L289.37,174.46 L290.00,174.40 L290.62,174.34 L291.23,174.28 L291.82,174.22 L292.42,174.16 L293.01,174.11 L293.60,174.06 L294.19,174.01 L294.78,173.96 L295.39,173.91 L296.00,173.86 L296.62,173.81 L297.26,173.77 L297.91,173.73 L298.58,173.68 L299.28,173.64 L300.00,173.60 L301.05,173.54 L302.13,173.49 L303.24,173.44 L304.38,173.40 L305.54,173.35 L306.73,173.31 L307.95,173.27 L309.19,173.24 L310.46,173.20 L311.76,173.17 L313.08,173.14 L314.42,173.11 L315.78,173.08 L317.17,173.05 L318.57,173.03 L320.00,173.00 L321.99,172.97 L324.05,172.94 L326.18,172.92 L328.38,172.90 L330.63,172.89 L332.92,172.87 L335.25,172.86 L337.61,172.86 L340.00,172.85 L342.39,172.84 L344.79,172.84 L347.19,172.83 L349.58,172.83 L351.95,172.82 L354.29,172.81 L356.60,172.80" stroke="#1f988b" stroke-width="1.2"/>
<path d="M41.40,173.30 L42.25,173.30 L43.11,173.30 L43.98,173.30 L44.85,173.30 L45.72,173.30 L46.59,173.31 L47.46,173.31 L48.33,173.31 L49.19,173.31 L50.05,173.31 L50.90,173.31 L51.75,173.31 L52.58,173.31 L53.40,173.31 L54.21,173.30 L55.00,173.30 L55.67,173.30 L56.32,173.30 L56.97,173.30 L57.61,173.30 L58.24,173.30 L58.86,173.30 L59.48,173.30 L60.10,173.30 L60.71,173.30 L61.32,173.29 L61.93,173.29 L62.54,173.28 L63.15,173.26 L63.76,173.25 L64.38,173.23 L65.00,173.20 L65.63,173.17 L66.25,173.14 L66.88,173.11 L67.50,173.07 L68.13,173.04 L68.75,173.00 L69.38,172.96 L70.01,172.91 L70.63,172.86 L71.26,172.81 L71.88,172.75 L72.51,172.69 L73.13,172.63 L73.75,172.56 L74.38,172.48 L75.00,172.40 L75.63,172.31 L76.25,172.22 L76.88,172.13 L77.51,172.03 L78.14,171.93 L78.76,171.83 L79.39,171.72 L80.02,171.60 L80.64,171.48 L81.27,171.36 L81.89,171.23 L82.51,171.09 L83.14,170.95 L83.76,170.81 L84.38,170.66 L85.00,170.50 L85.63,170.33 L86.26,170.16 L86.89,169.99 L87.52,169.81 L88.15,169.62 L88.77,169.43 L89.40,169.23 L90.03,169.03 L90.65,168.82 L91.28,168.60 L91.90,168.38 L92.52,168.16 L93.14,167.93 L93.76,167.69 L94.38,167.45 L95.00,167.20 L95.64,166.94 L96.27,166.67 L96.91,166.39 L97.55,166.10 L98.19,165.81 L98.83,165.51 L99.47,165.21 L100.11,164.90 L100.74,164.58 L101.37,164.27 L101.99,163.94 L102.61,163.62 L103.22,163.29 L103.82,162.96 L104.41,162.63 L105.00,162.30 L105.54,161.99 L106.07,161.68 L106.59,161.37 L107.11,161.05 L107.62,160.74 L108.13,160.42 L108.64,160.10 L109.14,159.77 L109.63,159.44 L110.13,159.11 L110.61,158.77 L111.10,158.43 L111.58,158.08 L112.06,157.73 L112.53,157.37 L113.00,157.00 L113.47,156.63 L113.93,156.25 L114.40,155.86 L114.86,155.46 L115.31,155.06 L115.76,154.66 L116.21,154.25 L116.66,153.83 L117.10,153.42 L117.53,153.00 L117.96,152.58 L118.38,152.16 L118.80,151.74 L119.21,151.33 L119.61,150.91 L120.00,150.50 L120.35,150.13 L120.70,149.75 L121.04,149.37 L121.39,148.99 L121.72,148.60 L122.06,148.22 L122.38,147.83 L122.70,147.45 L123.02,147.06 L123.33,146.68 L123.63,146.31 L123.92,145.94 L124.20,145.57 L124.48,145.20 L124.74,144.85 L125.00,144.50 L125.19,144.24 L125.36,143.99 L125.53,143.76 L125.69,143.53 L125.84,143.31 L125.99,143.09 L126.13,142.87 L126.27,142.65 L126.41,142.42 L126.55,142.19 L126.69,141.95 L126.84,141.70 L126.99,141.43 L127.15,141.14 L127.32,140.83 L127.50,140.50 L127.88,139.78 L128.29,138.97 L128.73,138.07 L129.20,137.11 L129.68,136.09 L130.18,135.03 L130.69,133.92 L131.21,132.79 L131.73,131.64 L132.25,130.48 L132.76,129.33 L133.26,128.19 L133.75,127.08 L134.23,126.00 L134.68,124.97 L135.10,124.00 L135.43,123.23 L135.76,122.48 L136.08,121.75 L136.40,121.03 L136.70,120.32 L137.00,119.61 L137.30,118.92 L137.59,118.23 L137.88,117.54 L138.16,116.84 L138.44,116.14 L138.72,115.44 L138.99,114.73 L139.26,114.00 L139.53,113.26 L139.80,112.50 L140.09,111.65 L140.37,110.79 L140.65,109.93 L140.92,109.06 L141.18,108.18 L141.44,107.29 L141.70,106.40 L141.95,105.50 L142.21,104.59 L142.46,103.67 L142.71,102.74 L142.96,101.81 L143.22,100.87 L143.47,99.92 L143.73,98.97 L144.00,98.00 L144.31,96.89 L144.62,95.75 L144.93,94.61 L145.24,93.45 L145.56,92.27 L145.87,91.09 L146.19,89.90 L146.51,88.70 L146.82,87.49 L147.14,86.28 L147.45,85.07 L147.77,83.85 L148.08,82.63 L148.39,81.42 L148.70,80.21 L149.00,79.00 L149.31,77.76 L149.62,76.52 L149.92,75.26 L150.23,74.00 L150.53,72.74 L150.83,71.47 L151.14,70.20 L151.44,68.93 L151.74,67.67 L152.03,66.40 L152.33,65.15 L152.63,63.90 L152.92,62.66 L153.21,61.43 L153.51,60.21 L153.80,59.00 L154.07,57.89 L154.33,56.79 L154.59,55.68 L154.85,54.58 L155.11,53.48 L155.37,52.39 L155.62,51.30 L155.88,50.22 L156.14,49.15 L156.39,48.09 L156.65,47.04 L156.92,46.00 L157.18,44.97 L157.45,43.97 L157.72,42.97 L158.00,42.00 L158.24,41.18 L158.48,40.37 L158.72,39.57 L158.96,38.77 L159.21,37.98 L159.46,37.20 L159.70,36.43 L159.95,35.67 L160.20,34.92 L160.46,34.18 L160.71,33.45 L160.97,32.74 L161.22,32.03 L161.48,31.34 L161.74,30.66 L162.00,30.00 L162.21,29.47 L162.42,28.94 L162.62,28.40 L162.83,27.87 L163.04,27.35 L163.24,26.83 L163.45,26.33 L163.66,25.83 L163.87,25.35 L164.09,24.88 L164.31,24.43 L164.54,23.99 L164.77,23.58 L165.00,23.20 L165.25,22.83 L165.50,22.50 L165.68,22.28 L165.87,22.06 L166.06,21.83 L166.25,21.61 L166.45,21.40 L166.65,21.20 L166.85,21.00 L167.06,20.82 L167.26,20.65 L167.46,20.50 L167.66,20.37 L167.86,20.27 L168.05,20.18 L168.24,20.13 L168.42,20.10 L168.60,20.10 L168.77,20.14 L168.93,20.20 L169.10,20.30 L169.26,20.42 L169.41,20.56 L169.57,20.73 L169.72,20.92 L169.87,21.12 L170.02,21.33 L170.16,21.56 L170.30,21.79 L170.45,22.03 L170.59,22.28 L170.73,22.52 L170.86,22.76 L171.00,23.00 L171.19,23.34 L171.37,23.69 L171.56,24.05 L171.73,24.42 L171.91,24.80 L172.08,25.20 L172.24,25.62 L172.41,26.04 L172.57,26.48 L172.72,26.94 L172.88,27.41 L173.03,27.90 L173.18,28.40 L173.32,28.91 L173.47,29.45 L173.61,30.00 L173.83,30.96 L174.05,31.98 L174.25,33.06 L174.44,34.20 L174.63,35.39 L174.80,36.63 L174.97,37.89 L175.13,39.20 L175.29,40.52 L175.44,41.87 L175.59,43.23 L175.73,44.59 L175.87,45.96 L176.01,47.32 L176.14,48.67 L176.28,50.00 L176.42,51.47 L176.55,52.95 L176.68,54.44 L176.79,55.93 L176.91,57.43 L177.01,58.94 L177.11,60.46 L177.21,61.99 L177.30,63.55 L177.40,65.12 L177.49,66.71 L177.58,68.32 L177.68,69.95 L177.78,71.61 L177.88,73.29 L177.99,75.00 L178.12,77.15 L178.27,79.34 L178.41,81.58 L178.56,83.85 L178.71,86.15 L178.85,88.49 L179.00,90.86 L179.15,93.25 L179.30,95.67 L179.45,98.10 L179.59,100.56 L179.73,103.03 L179.87,105.51 L180.00,108.00 L180.13,110.50 L180.25,113.00 L180.38,115.78 L180.51,118.56 L180.63,121.34 L180.75,124.13 L180.86,126.94 L180.97,129.76 L181.08,132.61 L181.18,135.48 L181.28,138.39 L181.38,141.33 L181.48,144.31 L181.58,147.34 L181.67,150.42 L181.77,153.55 L181.87,156.74 L181.96,160.00 L182.09,164.34 L182.21,168.98 L182.33,173.85 L182.44,178.91 L182.56,184.11 L182.67,189.39 L182.78,194.72 L182.89,200.03 L182.99,205.28 L183.10,210.41 L183.20,215.38 L183.30,220.14 L183.40,224.63 L183.50,228.80 L183.59,232.61 L183.68,236.00 L183.73,237.53 L183.77,238.98 L183.80,240.34 L183.84,241.63 L183.87,242.86 L183.90,244.03 L183.94,245.17 L183.97,246.27 L184.00,247.34 L184.04,248.40 L184.08,249.46 L184.13,250.52 L184.17,251.59 L184.23,252.69 L184.29,253.82 L184.36,255.00 L184.43,256.24 L184.49,257.50 L184.56,258.78 L184.62,260.06 L184.68,261.35 L184.75,262.65 L184.83,263.94 L184.91,265.23 L184.99,266.52 L185.09,267.78 L185.20,269.04 L185.33,270.27 L185.47,271.48 L185.63,272.65 L185.81,273.80 L186.01,274.91 L186.19,275.80 L186.37,276.69 L186.56,277.57 L186.76,278.45 L186.97,279.32 L187.18,280.18 L187.41,281.02 L187.64,281.84 L187.89,282.65 L188.14,283.43 L188.41,284.19 L188.69,284.92 L188.97,285.61 L189.27,286.27 L189.59,286.89 L189.91,287.47 L190.14,287.85 L190.38,288.21 L190.62,288.56 L190.86,288.90 L191.11,289.22 L191.36,289.53 L191.62,289.82 L191.89,290.11 L192.16,290.38 L192.43,290.63 L192.72,290.88 L193.00,291.11 L193.29,291.33 L193.59,291.53 L193.89,291.72 L194.20,291.90 L194.49,292.06 L194.79,292.20 L195.10,292.33 L195.42,292.45 L195.74,292.56 L196.06,292.65 L196.39,292.73 L196.72,292.81 L197.06,292.87 L197.39,292.92 L197.73,292.97 L198.07,293.00 L198.40,293.03 L198.74,293.04 L199.07,293.05 L199.40,293.05 L199.74,293.04 L200.08,293.02 L200.43,292.99 L200.79,292.95 L201.14,292.90 L201.49,292.84 L201.85,292.78 L202.20,292.70 L202.55,292.61 L202.90,292.51 L203.24,292.40 L203.58,292.28 L203.91,292.14 L204.23,292.00 L204.54,291.85 L204.84,291.68 L205.14,291.50 L205.43,291.31 L205.72,291.11 L206.00,290.91 L206.27,290.69 L206.53,290.46 L206.79,290.22 L207.05,289.97 L207.30,289.71 L207.55,289.43 L207.79,289.13 L208.03,288.82 L208.26,288.49 L208.49,288.15 L208.72,287.78 L208.95,287.40 L209.33,286.69 L209.69,285.90 L210.05,285.04 L210.38,284.11 L210.71,283.13 L211.03,282.10 L211.33,281.03 L211.63,279.92 L211.92,278.80 L212.20,277.66 L212.47,276.52 L212.73,275.38 L212.99,274.25 L213.25,273.14 L213.50,272.06 L213.74,271.01 L213.97,270.01 L214.19,269.02 L214.39,268.03 L214.58,267.04 L214.77,266.05 L214.95,265.07 L215.12,264.08 L215.29,263.09 L215.45,262.10 L215.62,261.10 L215.78,260.10 L215.95,259.10 L216.12,258.09 L216.30,257.07 L216.49,256.04 L216.68,255.00 L216.90,253.85 L217.12,252.67 L217.33,251.47 L217.55,250.25 L217.77,249.02 L217.99,247.79 L218.21,246.55 L218.43,245.31 L218.67,244.07 L218.90,242.85 L219.15,241.65 L219.40,240.46 L219.66,239.30 L219.93,238.16 L220.21,237.06 L220.50,236.00 L220.75,235.16 L221.01,234.32 L221.28,233.50 L221.56,232.68 L221.84,231.88 L222.13,231.09 L222.43,230.31 L222.72,229.54 L223.02,228.79 L223.32,228.05 L223.61,227.33 L223.91,226.63 L224.19,225.94 L224.47,225.28 L224.74,224.63 L225.00,224.00 L225.18,223.57 L225.36,223.16 L225.53,222.77 L225.70,222.40 L225.87,222.04 L226.03,221.69 L226.19,221.34 L226.36,221.00 L226.52,220.66 L226.68,220.32 L226.85,219.96 L227.01,219.60 L227.18,219.23 L227.35,218.84 L227.52,218.43 L227.70,218.00 L227.95,217.36 L228.20,216.69 L228.45,215.98 L228.70,215.25 L228.95,214.50 L229.20,213.72 L229.46,212.94 L229.72,212.14 L229.98,211.34 L230.25,210.54 L230.53,209.75 L230.81,208.96 L231.09,208.19 L231.39,207.43 L231.69,206.70 L232.00,206.00 L232.29,205.37 L232.59,204.74 L232.90,204.10 L233.22,203.47 L233.55,202.84 L233.88,202.22 L234.21,201.60 L234.55,201.00 L234.88,200.40 L235.22,199.83 L235.56,199.27 L235.90,198.72 L236.23,198.20 L236.56,197.71 L236.88,197.24 L237.20,196.80 L237.41,196.52 L237.62,196.25 L237.82,195.99 L238.03,195.74 L238.23,195.50 L238.43,195.27 L238.63,195.05 L238.83,194.84 L239.03,194.63 L239.24,194.42 L239.44,194.23 L239.65,194.04 L239.86,193.85 L240.07,193.66 L240.28,193.48 L240.50,193.30 L240.70,193.14 L240.90,192.98 L241.10,192.83 L241.30,192.68 L241.50,192.53 L241.70,192.39 L241.91,192.26 L242.12,192.12 L242.32,191.99 L242.54,191.87 L242.75,191.75 L242.97,191.63 L243.20,191.52 L243.43,191.41 L243.66,191.30 L243.90,191.20 L244.18,191.09 L244.48,190.98 L244.78,190.89 L245.08,190.79 L245.40,190.71 L245.72,190.63 L246.04,190.55 L246.37,190.48 L246.70,190.41 L247.03,190.34 L247.36,190.28 L247.69,190.22 L248.03,190.16 L248.35,190.11 L248.68,190.05 L249.00,190.00 L249.31,189.95 L249.62,189.91 L249.93,189.88 L250.25,189.85 L250.56,189.83 L250.87,189.81 L251.18,189.79 L251.49,189.77 L251.80,189.75 L252.11,189.73 L252.42,189.71 L252.74,189.68 L253.05,189.65 L253.37,189.61 L253.68,189.56 L254.00,189.50 L254.34,189.43 L254.69,189.35 L255.03,189.27 L255.38,189.18 L255.73,189.09 L256.07,188.99 L256.42,188.88 L256.77,188.78 L257.12,188.67 L257.47,188.55 L257.82,188.43 L258.18,188.31 L258.53,188.19 L258.89,188.06 L259.24,187.93 L259.60,187.80 L259.99,187.65 L260.38,187.49 L260.78,187.33 L261.17,187.16 L261.57,186.99 L261.96,186.81 L262.36,186.62 L262.76,186.44 L263.16,186.25 L263.56,186.07 L263.96,185.88 L264.37,185.70 L264.77,185.52 L265.18,185.34 L265.59,185.17 L266.00,185.00 L266.43,184.83 L266.86,184.67 L267.29,184.50 L267.72,184.34 L268.16,184.18 L268.60,184.03 L269.04,183.87 L269.48,183.72 L269.92,183.56 L270.36,183.41 L270.80,183.26 L271.25,183.10 L271.69,182.95 L272.13,182.80 L272.56,182.65 L273.00,182.50 L273.42,182.35 L273.84,182.21 L274.26,182.06 L274.66,181.92 L275.07,181.78 L275.48,181.64 L275.89,181.50 L276.30,181.36 L276.71,181.22 L277.13,181.08 L277.55,180.94 L277.98,180.79 L278.42,180.65 L278.87,180.50 L279.33,180.35 L279.80,180.20 L280.42,180.00 L281.06,179.79 L281.72,179.58 L282.40,179.35 L283.09,179.13 L283.79,178.90 L284.50,178.67 L285.22,178.45 L285.94,178.22 L286.67,178.00 L287.40,177.78 L288.13,177.57 L288.86,177.36 L289.58,177.16 L290.29,176.98 L291.00,176.80 L291.68,176.64 L292.37,176.48 L293.04,176.33 L293.72,176.18 L294.40,176.04 L295.08,175.91 L295.76,175.78 L296.43,175.65 L297.12,175.53 L297.80,175.42 L298.49,175.30 L299.18,175.20 L299.87,175.09 L300.58,174.99 L301.28,174.89 L302.00,174.80 L302.77,174.70 L303.52,174.61 L304.26,174.53 L305.00,174.45 L305.73,174.38 L306.47,174.31 L307.21,174.25 L307.97,174.19 L308.74,174.14 L309.53,174.08 L310.35,174.03 L311.20,173.99 L312.09,173.94 L313.01,173.89 L313.98,173.85 L315.00,173.80 L316.95,173.72 L319.07,173.66 L321.34,173.60 L323.74,173.56 L326.26,173.52 L328.87,173.49 L331.57,173.47 L334.33,173.45 L337.13,173.43 L339.96,173.42 L342.81,173.40 L345.65,173.39 L348.46,173.37 L351.24,173.35 L353.96,173.33 L356.60,173.30" stroke="#27ad81" stroke-width="1.2"/>
<path d="M41.40,173.60 L42.26,173.59 L43.14,173.59 L44.03,173.58 L44.93,173.58 L45.83,173.58 L46.74,173.57 L47.65,173.57 L48.54,173.57 L49.43,173.56 L50.30,173.56 L51.16,173.55 L51.99,173.54 L52.79,173.53 L53.56,173.52 L54.30,173.51 L55.00,173.50 L55.44,173.49 L55.86,173.48 L56.26,173.48 L56.64,173.47 L57.01,173.47 L57.37,173.46 L57.72,173.45 L58.07,173.44 L58.41,173.43 L58.76,173.42 L59.11,173.41 L59.46,173.39 L59.83,173.38 L60.20,173.35 L60.59,173.33 L61.00,173.30 L61.54,173.26 L62.09,173.21 L62.66,173.17 L63.25,173.11 L63.84,173.06 L64.45,173.00 L65.06,172.94 L65.68,172.87 L66.29,172.80 L66.91,172.73 L67.53,172.65 L68.14,172.57 L68.75,172.48 L69.34,172.39 L69.93,172.30 L70.50,172.20 L71.02,172.11 L71.53,172.01 L72.04,171.91 L72.55,171.80 L73.05,171.69 L73.55,171.58 L74.04,171.46 L74.54,171.34 L75.03,171.22 L75.52,171.10 L76.00,170.97 L76.48,170.84 L76.97,170.71 L77.45,170.57 L77.92,170.44 L78.40,170.30 L78.85,170.17 L79.29,170.03 L79.72,169.90 L80.15,169.76 L80.57,169.62 L80.99,169.48 L81.41,169.34 L81.83,169.19 L82.26,169.04 L82.68,168.89 L83.11,168.74 L83.55,168.58 L84.00,168.42 L84.45,168.25 L84.92,168.08 L85.40,167.90 L86.03,167.67 L86.68,167.43 L87.35,167.19 L88.03,166.94 L88.72,166.68 L89.43,166.42 L90.14,166.15 L90.86,165.88 L91.58,165.60 L92.31,165.31 L93.03,165.02 L93.76,164.73 L94.48,164.43 L95.20,164.12 L95.90,163.81 L96.60,163.50 L97.32,163.17 L98.04,162.83 L98.78,162.47 L99.52,162.11 L100.26,161.74 L101.00,161.37 L101.74,160.99 L102.48,160.60 L103.20,160.22 L103.92,159.83 L104.62,159.45 L105.30,159.07 L105.96,158.69 L106.60,158.32 L107.21,157.96 L107.80,157.60 L108.21,157.34 L108.61,157.10 L109.00,156.85 L109.37,156.61 L109.73,156.38 L110.09,156.14 L110.43,155.91 L110.77,155.67 L111.10,155.43 L111.43,155.19 L111.76,154.95 L112.08,154.69 L112.41,154.43 L112.74,154.17 L113.07,153.89 L113.40,153.60 L113.77,153.27 L114.14,152.93 L114.51,152.57 L114.88,152.21 L115.25,151.83 L115.61,151.45 L115.98,151.06 L116.34,150.67 L116.69,150.28 L117.05,149.89 L117.39,149.49 L117.73,149.10 L118.06,148.72 L118.38,148.34 L118.70,147.96 L119.00,147.60 L119.25,147.30 L119.48,147.01 L119.72,146.72 L119.94,146.43 L120.16,146.15 L120.38,145.86 L120.59,145.58 L120.80,145.30 L121.00,145.02 L121.21,144.73 L121.41,144.45 L121.61,144.17 L121.81,143.88 L122.00,143.59 L122.20,143.30 L122.40,143.00 L122.60,142.70 L122.79,142.41 L122.98,142.12 L123.16,141.84 L123.35,141.56 L123.53,141.27 L123.71,140.99 L123.89,140.70 L124.06,140.40 L124.24,140.09 L124.43,139.78 L124.61,139.45 L124.80,139.11 L125.00,138.76 L125.19,138.39 L125.40,138.00 L125.75,137.33 L126.11,136.61 L126.49,135.85 L126.88,135.06 L127.28,134.23 L127.69,133.37 L128.11,132.48 L128.53,131.58 L128.94,130.65 L129.36,129.71 L129.77,128.76 L130.18,127.81 L130.58,126.85 L130.97,125.89 L131.34,124.94 L131.70,124.00 L132.08,122.96 L132.45,121.89 L132.82,120.79 L133.18,119.66 L133.53,118.52 L133.88,117.37 L134.22,116.22 L134.55,115.06 L134.88,113.91 L135.20,112.78 L135.52,111.65 L135.82,110.56 L136.13,109.49 L136.42,108.45 L136.71,107.45 L137.00,106.50 L137.20,105.83 L137.40,105.19 L137.59,104.58 L137.78,103.99 L137.96,103.41 L138.14,102.85 L138.31,102.30 L138.49,101.75 L138.66,101.20 L138.83,100.64 L139.00,100.08 L139.17,99.51 L139.35,98.92 L139.53,98.30 L139.71,97.67 L139.90,97.00 L140.15,96.08 L140.41,95.13 L140.67,94.15 L140.93,93.14 L141.19,92.12 L141.46,91.07 L141.73,90.01 L142.00,88.93 L142.27,87.83 L142.54,86.73 L142.81,85.61 L143.09,84.49 L143.36,83.37 L143.64,82.25 L143.92,81.12 L144.20,80.00 L144.51,78.74 L144.83,77.46 L145.16,76.15 L145.48,74.83 L145.81,73.49 L146.14,72.15 L146.48,70.79 L146.81,69.44 L147.14,68.09 L147.47,66.74 L147.80,65.40 L148.13,64.08 L148.46,62.77 L148.78,61.49 L149.09,60.23 L149.40,59.00 L149.66,57.96 L149.92,56.94 L150.18,55.92 L150.44,54.92 L150.69,53.92 L150.94,52.94 L151.19,51.96 L151.44,51.00 L151.69,50.04 L151.94,49.08 L152.18,48.14 L152.43,47.20 L152.67,46.27 L152.91,45.34 L153.16,44.42 L153.40,43.50 L153.62,42.68 L153.83,41.86 L154.04,41.05 L154.25,40.25 L154.46,39.45 L154.66,38.65 L154.87,37.86 L155.08,37.08 L155.28,36.30 L155.49,35.53 L155.70,34.76 L155.91,33.99 L156.13,33.24 L156.35,32.49 L156.57,31.74 L156.80,31.00 L157.01,30.32 L157.23,29.64 L157.45,28.95 L157.68,28.25 L157.91,27.56 L158.14,26.88 L158.37,26.20 L158.61,25.52 L158.84,24.86 L159.07,24.22 L159.30,23.59 L159.53,22.98 L159.76,22.40 L159.98,21.84 L160.19,21.30 L160.40,20.80 L160.53,20.49 L160.66,20.19 L160.78,19.89 L160.91,19.60 L161.03,19.32 L161.15,19.05 L161.27,18.78 L161.38,18.53 L161.50,18.28 L161.62,18.04 L161.75,17.81 L161.87,17.59 L162.00,17.38 L162.13,17.17 L162.26,16.98 L162.40,16.80 L162.50,16.68 L162.60,16.55 L162.70,16.43 L162.80,16.31 L162.91,16.20 L163.01,16.09 L163.12,15.98 L163.22,15.88 L163.33,15.79 L163.44,15.70 L163.55,15.63 L163.65,15.56 L163.76,15.50 L163.88,15.46 L163.99,15.42 L164.10,15.40 L164.21,15.39 L164.32,15.40 L164.43,15.41 L164.55,15.44 L164.66,15.47 L164.78,15.51 L164.90,15.56 L165.02,15.62 L165.14,15.68 L165.25,15.75 L165.37,15.82 L165.48,15.89 L165.59,15.97 L165.70,16.05 L165.80,16.12 L165.90,16.20 L166.00,16.28 L166.10,16.37 L166.19,16.46 L166.28,16.56 L166.37,16.66 L166.45,16.76 L166.53,16.87 L166.61,16.98 L166.69,17.10 L166.77,17.22 L166.85,17.34 L166.94,17.46 L167.02,17.59 L167.11,17.73 L167.20,17.86 L167.30,18.00 L167.46,18.22 L167.62,18.45 L167.79,18.69 L167.96,18.94 L168.14,19.20 L168.32,19.47 L168.51,19.75 L168.70,20.03 L168.89,20.32 L169.08,20.62 L169.26,20.92 L169.45,21.23 L169.64,21.54 L169.82,21.86 L170.00,22.18 L170.18,22.50 L170.40,22.90 L170.61,23.31 L170.83,23.72 L171.05,24.13 L171.27,24.55 L171.49,24.98 L171.71,25.41 L171.92,25.86 L172.13,26.32 L172.34,26.80 L172.54,27.28 L172.74,27.79 L172.94,28.31 L173.12,28.85 L173.30,29.42 L173.48,30.00 L173.74,30.97 L173.98,32.00 L174.20,33.10 L174.41,34.24 L174.61,35.43 L174.79,36.66 L174.97,37.93 L175.13,39.23 L175.29,40.55 L175.44,41.89 L175.59,43.24 L175.73,44.60 L175.87,45.96 L176.01,47.32 L176.15,48.67 L176.29,50.00 L176.44,51.47 L176.59,52.95 L176.72,54.44 L176.85,55.93 L176.97,57.43 L177.08,58.94 L177.19,60.46 L177.30,61.99 L177.40,63.55 L177.50,65.12 L177.60,66.70 L177.70,68.32 L177.80,69.95 L177.90,71.61 L178.01,73.29 L178.12,75.00 L178.26,77.15 L178.40,79.34 L178.54,81.58 L178.68,83.85 L178.82,86.15 L178.97,88.49 L179.11,90.86 L179.25,93.25 L179.39,95.67 L179.52,98.10 L179.66,100.56 L179.79,103.03 L179.92,105.51 L180.04,108.00 L180.16,110.50 L180.28,113.00 L180.41,115.78 L180.53,118.56 L180.64,121.34 L180.76,124.13 L180.86,126.94 L180.97,129.76 L181.07,132.61 L181.17,135.48 L181.27,138.39 L181.37,141.33 L181.46,144.31 L181.55,147.34 L181.65,150.42 L181.74,153.55 L181.83,156.74 L181.92,160.00 L182.04,164.34 L182.16,168.98 L182.27,173.85 L182.38,178.91 L182.49,184.11 L182.60,189.39 L182.71,194.72 L182.81,200.03 L182.91,205.28 L183.01,210.41 L183.11,215.38 L183.21,220.14 L183.30,224.63 L183.39,228.80 L183.48,232.61 L183.57,236.00 L183.61,237.53 L183.65,238.98 L183.68,240.34 L183.71,241.63 L183.74,242.86 L183.77,244.04 L183.80,245.17 L183.83,246.27 L183.86,247.35 L183.90,248.41 L183.93,249.46 L183.98,250.52 L184.02,251.60 L184.07,252.70 L184.13,253.83 L184.20,255.00 L184.26,256.23 L184.33,257.48 L184.39,258.74 L184.45,260.01 L184.51,261.29 L184.58,262.57 L184.65,263.85 L184.73,265.13 L184.82,266.39 L184.91,267.65 L185.02,268.89 L185.15,270.11 L185.29,271.30 L185.44,272.47 L185.62,273.61 L185.82,274.72 L185.99,275.61 L186.17,276.50 L186.36,277.40 L186.56,278.28 L186.77,279.16 L186.98,280.03 L187.21,280.88 L187.44,281.72 L187.69,282.54 L187.94,283.33 L188.21,284.09 L188.48,284.83 L188.77,285.54 L189.08,286.21 L189.39,286.84 L189.72,287.43 L189.95,287.81 L190.19,288.18 L190.43,288.54 L190.68,288.88 L190.93,289.21 L191.19,289.53 L191.45,289.83 L191.72,290.12 L192.00,290.40 L192.28,290.66 L192.56,290.91 L192.85,291.15 L193.15,291.37 L193.45,291.58 L193.76,291.78 L194.08,291.96 L194.37,292.12 L194.68,292.27 L195.00,292.40 L195.32,292.52 L195.65,292.63 L195.98,292.73 L196.32,292.82 L196.66,292.89 L197.00,292.96 L197.34,293.01 L197.69,293.06 L198.03,293.09 L198.38,293.12 L198.72,293.14 L199.06,293.14 L199.40,293.14 L199.75,293.13 L200.10,293.11 L200.45,293.09 L200.81,293.05 L201.17,293.00 L201.54,292.94 L201.90,292.87 L202.26,292.79 L202.61,292.70 L202.97,292.60 L203.31,292.48 L203.66,292.36 L203.99,292.23 L204.32,292.08 L204.63,291.92 L204.94,291.75 L205.24,291.57 L205.54,291.38 L205.83,291.18 L206.11,290.97 L206.39,290.75 L206.66,290.52 L206.92,290.27 L207.18,290.02 L207.43,289.74 L207.68,289.46 L207.93,289.16 L208.17,288.84 L208.41,288.51 L208.64,288.16 L208.88,287.79 L209.11,287.40 L209.49,286.68 L209.86,285.88 L210.21,285.00 L210.56,284.06 L210.89,283.07 L211.21,282.02 L211.52,280.94 L211.82,279.82 L212.11,278.68 L212.40,277.53 L212.67,276.37 L212.94,275.22 L213.21,274.08 L213.46,272.96 L213.72,271.87 L213.97,270.82 L214.20,269.83 L214.41,268.84 L214.61,267.86 L214.80,266.88 L214.98,265.91 L215.15,264.93 L215.32,263.96 L215.49,262.98 L215.65,262.00 L215.81,261.02 L215.98,260.04 L216.16,259.04 L216.34,258.05 L216.53,257.04 L216.73,256.03 L216.94,255.00 L217.19,253.85 L217.45,252.67 L217.71,251.46 L217.98,250.24 L218.26,249.00 L218.54,247.75 L218.82,246.51 L219.11,245.26 L219.41,244.02 L219.71,242.80 L220.01,241.59 L220.32,240.40 L220.64,239.25 L220.95,238.12 L221.28,237.04 L221.60,236.00 L221.86,235.22 L222.12,234.45 L222.40,233.70 L222.68,232.96 L222.96,232.23 L223.24,231.52 L223.53,230.82 L223.82,230.14 L224.11,229.46 L224.39,228.80 L224.68,228.14 L224.95,227.50 L225.23,226.86 L225.49,226.23 L225.75,225.61 L226.00,225.00 L226.19,224.52 L226.38,224.06 L226.56,223.61 L226.73,223.17 L226.91,222.74 L227.08,222.31 L227.25,221.90 L227.41,221.48 L227.58,221.06 L227.75,220.65 L227.91,220.23 L228.08,219.80 L228.26,219.37 L228.43,218.92 L228.61,218.47 L228.80,218.00 L229.03,217.42 L229.25,216.83 L229.48,216.21 L229.71,215.59 L229.94,214.96 L230.17,214.31 L230.41,213.67 L230.65,213.02 L230.89,212.36 L231.13,211.72 L231.38,211.07 L231.64,210.43 L231.89,209.80 L232.16,209.19 L232.43,208.59 L232.70,208.00 L232.95,207.47 L233.21,206.93 L233.47,206.39 L233.73,205.85 L233.99,205.31 L234.25,204.77 L234.52,204.24 L234.80,203.73 L235.08,203.22 L235.36,202.72 L235.65,202.25 L235.95,201.79 L236.25,201.35 L236.56,200.94 L236.87,200.56 L237.20,200.20 L237.45,199.94 L237.71,199.69 L237.97,199.45 L238.23,199.22 L238.49,199.00 L238.76,198.79 L239.03,198.59 L239.31,198.41 L239.59,198.23 L239.87,198.07 L240.16,197.92 L240.46,197.79 L240.76,197.67 L241.07,197.56 L241.38,197.47 L241.70,197.40 L242.07,197.34 L242.45,197.32 L242.84,197.32 L243.24,197.35 L243.65,197.39 L244.06,197.46 L244.49,197.54 L244.91,197.64 L245.34,197.74 L245.77,197.86 L246.21,197.97 L246.65,198.09 L247.09,198.20 L247.53,198.31 L247.96,198.41 L248.40,198.50 L248.88,198.60 L249.37,198.72 L249.87,198.85 L250.37,199.00 L250.87,199.15 L251.38,199.30 L251.90,199.46 L252.41,199.61 L252.92,199.75 L253.42,199.88 L253.92,200.00 L254.42,200.09 L254.90,200.16 L255.38,200.21 L255.85,200.22 L256.30,200.20 L256.68,200.15 L257.06,200.09 L257.44,200.00 L257.81,199.90 L258.18,199.78 L258.54,199.65 L258.90,199.51 L259.25,199.35 L259.60,199.18 L259.94,199.01 L260.28,198.83 L260.61,198.65 L260.94,198.46 L261.27,198.27 L261.59,198.09 L261.90,197.90 L262.18,197.73 L262.46,197.55 L262.72,197.36 L262.97,197.17 L263.22,196.98 L263.47,196.78 L263.71,196.58 L263.95,196.37 L264.18,196.16 L264.43,195.94 L264.67,195.73 L264.92,195.51 L265.18,195.28 L265.44,195.06 L265.71,194.83 L266.00,194.60 L266.39,194.29 L266.78,193.98 L267.18,193.66 L267.59,193.34 L268.01,193.01 L268.44,192.67 L268.87,192.33 L269.32,191.98 L269.76,191.63 L270.22,191.28 L270.68,190.92 L271.15,190.56 L271.63,190.20 L272.11,189.83 L272.60,189.47 L273.10,189.10 L273.72,188.64 L274.37,188.16 L275.02,187.66 L275.69,187.16 L276.38,186.64 L277.07,186.12 L277.77,185.60 L278.49,185.08 L279.20,184.56 L279.93,184.05 L280.66,183.55 L281.39,183.06 L282.12,182.59 L282.85,182.13 L283.57,181.70 L284.30,181.30 L284.98,180.94 L285.67,180.59 L286.36,180.25 L287.05,179.92 L287.74,179.61 L288.44,179.30 L289.14,179.01 L289.84,178.72 L290.54,178.45 L291.25,178.19 L291.95,177.93 L292.66,177.69 L293.37,177.45 L294.08,177.23 L294.79,177.01 L295.50,176.80 L296.19,176.61 L296.88,176.43 L297.57,176.26 L298.25,176.11 L298.94,175.96 L299.63,175.83 L300.32,175.70 L301.01,175.58 L301.71,175.47 L302.41,175.36 L303.11,175.26 L303.82,175.16 L304.53,175.07 L305.25,174.98 L305.97,174.89 L306.70,174.80 L307.49,174.71 L308.26,174.63 L309.02,174.56 L309.78,174.49 L310.54,174.43 L311.31,174.38 L312.08,174.33 L312.86,174.29 L313.66,174.24 L314.47,174.21 L315.31,174.17 L316.18,174.14 L317.08,174.10 L318.01,174.07 L318.98,174.04 L320.00,174.00 L321.79,173.94 L323.71,173.89 L325.74,173.85 L327.87,173.82 L330.10,173.79 L332.40,173.77 L334.76,173.75 L337.17,173.73 L339.61,173.71 L342.08,173.70 L344.55,173.69 L347.02,173.67 L349.48,173.66 L351.90,173.64 L354.28,173.62 L356.60,173.60" stroke="#4ac16d" stroke-width="1.2"/>
<path d="M41.40,173.90 L42.07,173.89 L42.74,173.89 L43.41,173.89 L44.09,173.88 L44.76,173.88 L45.44,173.88 L46.12,173.88 L46.79,173.87 L47.47,173.87 L48.13,173.87 L48.80,173.86 L49.46,173.85 L50.10,173.84 L50.75,173.83 L51.38,173.82 L52.00,173.80 L52.53,173.78 L53.05,173.77 L53.56,173.75 L54.06,173.74 L54.55,173.72 L55.04,173.70 L55.53,173.68 L56.02,173.66 L56.50,173.63 L56.99,173.61 L57.47,173.58 L57.97,173.55 L58.46,173.52 L58.97,173.48 L59.48,173.44 L60.00,173.40 L60.60,173.35 L61.21,173.29 L61.82,173.24 L62.45,173.18 L63.09,173.12 L63.72,173.05 L64.36,172.98 L65.01,172.91 L65.65,172.83 L66.29,172.75 L66.93,172.67 L67.56,172.59 L68.18,172.50 L68.80,172.40 L69.41,172.30 L70.00,172.20 L70.53,172.10 L71.05,172.00 L71.57,171.90 L72.08,171.79 L72.59,171.69 L73.10,171.57 L73.60,171.46 L74.10,171.34 L74.60,171.22 L75.09,171.09 L75.58,170.97 L76.07,170.84 L76.55,170.71 L77.04,170.57 L77.52,170.44 L78.00,170.30 L78.45,170.17 L78.89,170.03 L79.33,169.90 L79.75,169.76 L80.18,169.62 L80.60,169.48 L81.02,169.34 L81.44,169.19 L81.86,169.05 L82.29,168.89 L82.72,168.74 L83.15,168.58 L83.60,168.42 L84.05,168.25 L84.52,168.08 L85.00,167.90 L85.63,167.67 L86.28,167.43 L86.95,167.19 L87.63,166.94 L88.32,166.68 L89.03,166.42 L89.74,166.15 L90.46,165.88 L91.18,165.60 L91.91,165.31 L92.63,165.02 L93.36,164.73 L94.08,164.43 L94.80,164.12 L95.50,163.81 L96.20,163.50 L96.92,163.17 L97.64,162.83 L98.38,162.47 L99.12,162.11 L99.86,161.74 L100.60,161.37 L101.34,160.99 L102.08,160.60 L102.80,160.22 L103.52,159.83 L104.22,159.45 L104.90,159.07 L105.56,158.69 L106.20,158.32 L106.81,157.96 L107.40,157.60 L107.81,157.34 L108.21,157.10 L108.60,156.85 L108.97,156.61 L109.33,156.38 L109.69,156.14 L110.03,155.91 L110.37,155.67 L110.70,155.43 L111.03,155.19 L111.36,154.95 L111.68,154.69 L112.01,154.43 L112.34,154.17 L112.67,153.89 L113.00,153.60 L113.37,153.27 L113.74,152.93 L114.11,152.57 L114.48,152.21 L114.85,151.83 L115.21,151.45 L115.58,151.06 L115.94,150.67 L116.29,150.28 L116.65,149.89 L116.99,149.49 L117.33,149.10 L117.66,148.72 L117.98,148.34 L118.30,147.96 L118.60,147.60 L118.85,147.30 L119.08,147.01 L119.32,146.72 L119.54,146.43 L119.76,146.15 L119.98,145.86 L120.19,145.58 L120.40,145.30 L120.60,145.02 L120.81,144.73 L121.01,144.45 L121.21,144.17 L121.41,143.88 L121.60,143.59 L121.80,143.30 L122.00,143.00 L122.20,142.70 L122.39,142.41 L122.58,142.12 L122.76,141.84 L122.95,141.56 L123.13,141.27 L123.31,140.99 L123.49,140.70 L123.66,140.40 L123.84,140.09 L124.03,139.78 L124.21,139.45 L124.40,139.11 L124.60,138.76 L124.79,138.39 L125.00,138.00 L125.35,137.33 L125.71,136.61 L126.10,135.85 L126.49,135.06 L126.90,134.23 L127.31,133.37 L127.73,132.49 L128.15,131.58 L128.57,130.66 L128.99,129.72 L129.40,128.77 L129.80,127.81 L130.20,126.85 L130.58,125.90 L130.95,124.94 L131.30,124.00 L131.67,122.96 L132.02,121.89 L132.37,120.79 L132.71,119.67 L133.03,118.53 L133.36,117.38 L133.67,116.22 L133.98,115.07 L134.27,113.92 L134.57,112.78 L134.85,111.66 L135.13,110.56 L135.41,109.49 L135.68,108.45 L135.94,107.45 L136.20,106.50 L136.39,105.83 L136.56,105.19 L136.74,104.58 L136.90,103.99 L137.06,103.41 L137.22,102.85 L137.38,102.30 L137.53,101.75 L137.68,101.20 L137.84,100.64 L137.99,100.08 L138.15,99.50 L138.30,98.91 L138.46,98.30 L138.63,97.67 L138.80,97.00 L139.03,96.08 L139.27,95.12 L139.51,94.15 L139.75,93.14 L139.99,92.11 L140.23,91.07 L140.48,90.00 L140.73,88.92 L140.98,87.83 L141.24,86.72 L141.49,85.61 L141.75,84.49 L142.01,83.37 L142.27,82.24 L142.54,81.12 L142.80,80.00 L143.10,78.74 L143.40,77.46 L143.71,76.16 L144.02,74.84 L144.34,73.50 L144.66,72.16 L144.98,70.81 L145.30,69.46 L145.62,68.11 L145.94,66.76 L146.26,65.43 L146.58,64.10 L146.89,62.79 L147.20,61.50 L147.50,60.24 L147.80,59.00 L148.06,57.94 L148.31,56.88 L148.56,55.84 L148.80,54.81 L149.05,53.78 L149.29,52.76 L149.53,51.76 L149.77,50.76 L150.01,49.76 L150.25,48.78 L150.49,47.80 L150.73,46.83 L150.97,45.86 L151.21,44.90 L151.45,43.95 L151.70,43.00 L151.92,42.15 L152.14,41.30 L152.36,40.45 L152.58,39.62 L152.80,38.78 L153.02,37.96 L153.24,37.13 L153.46,36.32 L153.69,35.51 L153.91,34.70 L154.14,33.90 L154.36,33.11 L154.59,32.32 L154.83,31.54 L155.06,30.77 L155.30,30.00 L155.52,29.30 L155.74,28.59 L155.97,27.88 L156.20,27.16 L156.44,26.45 L156.67,25.74 L156.91,25.03 L157.14,24.34 L157.38,23.66 L157.62,22.99 L157.85,22.35 L158.09,21.72 L158.32,21.12 L158.55,20.55 L158.78,20.01 L159.00,19.50 L159.14,19.19 L159.28,18.89 L159.41,18.60 L159.55,18.32 L159.68,18.05 L159.81,17.78 L159.94,17.52 L160.08,17.27 L160.21,17.03 L160.34,16.80 L160.48,16.58 L160.62,16.36 L160.76,16.16 L160.90,15.96 L161.05,15.78 L161.20,15.60 L161.31,15.48 L161.42,15.35 L161.54,15.23 L161.65,15.11 L161.77,15.00 L161.89,14.89 L162.01,14.78 L162.12,14.68 L162.24,14.59 L162.36,14.51 L162.49,14.43 L162.61,14.36 L162.73,14.31 L162.85,14.26 L162.98,14.22 L163.10,14.20 L163.22,14.19 L163.33,14.19 L163.46,14.20 L163.58,14.22 L163.70,14.24 L163.82,14.28 L163.95,14.32 L164.07,14.37 L164.20,14.42 L164.32,14.48 L164.44,14.54 L164.56,14.61 L164.67,14.68 L164.79,14.75 L164.89,14.83 L165.00,14.90 L165.11,14.98 L165.21,15.07 L165.31,15.17 L165.41,15.26 L165.50,15.37 L165.59,15.48 L165.67,15.59 L165.76,15.70 L165.84,15.83 L165.93,15.95 L166.02,16.08 L166.11,16.22 L166.20,16.36 L166.29,16.50 L166.39,16.65 L166.50,16.80 L166.68,17.07 L166.88,17.35 L167.08,17.66 L167.30,17.98 L167.51,18.31 L167.74,18.66 L167.97,19.02 L168.20,19.39 L168.43,19.77 L168.66,20.15 L168.89,20.54 L169.12,20.93 L169.35,21.32 L169.57,21.72 L169.79,22.11 L170.00,22.50 L170.23,22.93 L170.46,23.35 L170.69,23.77 L170.91,24.19 L171.14,24.61 L171.37,25.04 L171.59,25.47 L171.81,25.92 L172.02,26.37 L172.24,26.83 L172.44,27.31 L172.65,27.81 L172.84,28.32 L173.04,28.86 L173.22,29.42 L173.40,30.00 L173.66,30.97 L173.91,32.00 L174.14,33.09 L174.36,34.24 L174.56,35.43 L174.75,36.66 L174.93,37.93 L175.11,39.23 L175.27,40.55 L175.43,41.89 L175.58,43.24 L175.72,44.60 L175.87,45.96 L176.01,47.32 L176.16,48.67 L176.30,50.00 L176.46,51.47 L176.61,52.95 L176.75,54.44 L176.88,55.93 L177.00,57.42 L177.12,58.93 L177.24,60.46 L177.35,61.99 L177.46,63.55 L177.56,65.12 L177.67,66.70 L177.77,68.31 L177.87,69.95 L177.98,71.60 L178.09,73.29 L178.20,75.00 L178.34,77.15 L178.48,79.34 L178.62,81.58 L178.76,83.85 L178.90,86.15 L179.03,88.49 L179.17,90.86 L179.31,93.25 L179.44,95.67 L179.57,98.10 L179.70,100.56 L179.83,103.03 L179.95,105.51 L180.07,108.00 L180.19,110.50 L180.30,113.00 L180.42,115.78 L180.54,118.56 L180.65,121.34 L180.76,124.13 L180.87,126.94 L180.97,129.76 L181.07,132.61 L181.17,135.48 L181.26,138.39 L181.36,141.33 L181.45,144.31 L181.54,147.34 L181.63,150.42 L181.72,153.55 L181.81,156.74 L181.90,160.00 L182.01,164.34 L182.13,168.98 L182.24,173.85 L182.35,178.91 L182.45,184.11 L182.56,189.39 L182.66,194.72 L182.76,200.03 L182.86,205.28 L182.96,210.41 L183.06,215.38 L183.15,220.14 L183.24,224.63 L183.33,228.80 L183.42,232.61 L183.50,236.00 L183.54,237.54 L183.57,238.98 L183.61,240.34 L183.64,241.63 L183.66,242.86 L183.69,244.04 L183.72,245.18 L183.75,246.28 L183.78,247.35 L183.81,248.41 L183.85,249.47 L183.89,250.53 L183.93,251.60 L183.98,252.70 L184.04,253.83 L184.10,255.00 L184.17,256.23 L184.23,257.47 L184.29,258.72 L184.35,259.99 L184.41,261.25 L184.48,262.53 L184.55,263.80 L184.62,265.06 L184.71,266.32 L184.81,267.57 L184.91,268.80 L185.04,270.01 L185.17,271.20 L185.33,272.36 L185.50,273.50 L185.70,274.60 L185.87,275.50 L186.06,276.40 L186.24,277.29 L186.44,278.18 L186.65,279.07 L186.86,279.94 L187.09,280.80 L187.32,281.64 L187.57,282.47 L187.82,283.27 L188.09,284.04 L188.36,284.78 L188.65,285.49 L188.96,286.17 L189.27,286.80 L189.60,287.40 L189.83,287.79 L190.07,288.16 L190.32,288.53 L190.57,288.87 L190.82,289.21 L191.08,289.53 L191.35,289.84 L191.62,290.13 L191.90,290.41 L192.18,290.68 L192.47,290.93 L192.77,291.17 L193.07,291.40 L193.37,291.61 L193.68,291.81 L194.00,292.00 L194.30,292.16 L194.61,292.31 L194.93,292.45 L195.26,292.57 L195.59,292.68 L195.93,292.78 L196.27,292.87 L196.62,292.95 L196.96,293.01 L197.31,293.07 L197.66,293.11 L198.01,293.15 L198.36,293.17 L198.71,293.19 L199.06,293.20 L199.40,293.20 L199.75,293.19 L200.11,293.17 L200.47,293.14 L200.83,293.10 L201.19,293.05 L201.56,292.99 L201.92,292.92 L202.29,292.84 L202.65,292.75 L203.01,292.65 L203.36,292.54 L203.70,292.41 L204.04,292.28 L204.37,292.13 L204.69,291.97 L205.00,291.80 L205.31,291.61 L205.61,291.42 L205.90,291.22 L206.18,291.01 L206.46,290.78 L206.73,290.55 L207.00,290.30 L207.26,290.04 L207.51,289.77 L207.76,289.48 L208.01,289.18 L208.25,288.86 L208.49,288.52 L208.73,288.17 L208.97,287.79 L209.20,287.40 L209.59,286.68 L209.96,285.87 L210.32,284.98 L210.66,284.04 L211.00,283.03 L211.32,281.98 L211.63,280.88 L211.94,279.76 L212.23,278.61 L212.52,277.45 L212.80,276.29 L213.07,275.12 L213.33,273.98 L213.59,272.85 L213.85,271.76 L214.10,270.70 L214.33,269.71 L214.54,268.73 L214.74,267.76 L214.93,266.78 L215.10,265.82 L215.27,264.85 L215.43,263.88 L215.59,262.91 L215.76,261.94 L215.92,260.97 L216.09,259.99 L216.27,259.01 L216.45,258.02 L216.65,257.02 L216.87,256.02 L217.10,255.00 L217.38,253.85 L217.66,252.67 L217.96,251.46 L218.27,250.23 L218.59,249.00 L218.92,247.75 L219.25,246.50 L219.59,245.26 L219.94,244.02 L220.30,242.79 L220.66,241.58 L221.02,240.40 L221.39,239.24 L221.76,238.12 L222.13,237.04 L222.50,236.00 L222.80,235.21 L223.10,234.45 L223.41,233.69 L223.73,232.95 L224.06,232.23 L224.38,231.52 L224.71,230.82 L225.04,230.14 L225.37,229.46 L225.69,228.80 L226.02,228.14 L226.33,227.50 L226.64,226.86 L226.94,226.24 L227.22,225.61 L227.50,225.00 L227.71,224.52 L227.91,224.07 L228.11,223.62 L228.30,223.19 L228.49,222.77 L228.67,222.35 L228.85,221.94 L229.03,221.53 L229.21,221.12 L229.38,220.71 L229.56,220.29 L229.74,219.86 L229.93,219.42 L230.11,218.96 L230.30,218.49 L230.50,218.00 L230.76,217.32 L231.03,216.61 L231.30,215.86 L231.58,215.09 L231.86,214.30 L232.14,213.49 L232.42,212.67 L232.71,211.85 L233.00,211.02 L233.28,210.21 L233.57,209.41 L233.86,208.63 L234.15,207.87 L234.43,207.14 L234.72,206.45 L235.00,205.80 L235.20,205.34 L235.40,204.88 L235.60,204.43 L235.79,203.99 L235.98,203.55 L236.17,203.12 L236.37,202.70 L236.56,202.29 L236.76,201.90 L236.96,201.52 L237.16,201.15 L237.37,200.80 L237.59,200.47 L237.82,200.16 L238.05,199.87 L238.30,199.60 L238.49,199.41 L238.68,199.23 L238.87,199.06 L239.06,198.90 L239.26,198.74 L239.46,198.59 L239.66,198.46 L239.86,198.33 L240.07,198.21 L240.29,198.10 L240.51,198.01 L240.73,197.92 L240.97,197.85 L241.20,197.79 L241.45,197.74 L241.70,197.70 L242.05,197.68 L242.42,197.69 L242.80,197.73 L243.19,197.80 L243.60,197.90 L244.01,198.01 L244.43,198.15 L244.87,198.29 L245.30,198.45 L245.74,198.62 L246.19,198.79 L246.63,198.96 L247.08,199.13 L247.52,199.30 L247.96,199.45 L248.40,199.60 L248.88,199.76 L249.37,199.95 L249.86,200.15 L250.37,200.37 L250.87,200.60 L251.38,200.83 L251.89,201.06 L252.40,201.28 L252.90,201.50 L253.41,201.70 L253.91,201.89 L254.40,202.05 L254.89,202.19 L255.37,202.30 L255.84,202.37 L256.30,202.40 L256.68,202.40 L257.05,202.38 L257.43,202.33 L257.79,202.28 L258.16,202.20 L258.52,202.11 L258.88,202.01 L259.24,201.89 L259.59,201.77 L259.94,201.63 L260.28,201.49 L260.61,201.34 L260.94,201.18 L261.27,201.03 L261.59,200.86 L261.90,200.70 L262.19,200.54 L262.46,200.37 L262.73,200.20 L262.98,200.01 L263.23,199.83 L263.48,199.63 L263.72,199.43 L263.96,199.22 L264.20,199.00 L264.44,198.79 L264.68,198.56 L264.93,198.34 L265.18,198.11 L265.44,197.87 L265.72,197.64 L266.00,197.40 L266.39,197.08 L266.79,196.75 L267.19,196.40 L267.60,196.06 L268.02,195.70 L268.45,195.33 L268.88,194.96 L269.33,194.58 L269.77,194.20 L270.23,193.81 L270.69,193.42 L271.16,193.02 L271.64,192.62 L272.12,192.22 L272.61,191.81 L273.10,191.40 L273.73,190.88 L274.37,190.33 L275.02,189.76 L275.69,189.18 L276.37,188.58 L277.06,187.98 L277.77,187.37 L278.47,186.77 L279.19,186.16 L279.91,185.57 L280.64,184.99 L281.37,184.42 L282.10,183.87 L282.84,183.35 L283.57,182.86 L284.30,182.40 L284.98,182.00 L285.66,181.62 L286.34,181.25 L287.03,180.89 L287.73,180.55 L288.42,180.22 L289.12,179.90 L289.83,179.60 L290.53,179.30 L291.24,179.02 L291.95,178.75 L292.65,178.48 L293.37,178.23 L294.08,177.98 L294.79,177.74 L295.50,177.50 L296.19,177.28 L296.88,177.07 L297.56,176.87 L298.25,176.68 L298.94,176.50 L299.63,176.33 L300.32,176.16 L301.01,176.01 L301.71,175.86 L302.40,175.72 L303.11,175.58 L303.81,175.45 L304.53,175.33 L305.24,175.22 L305.97,175.11 L306.70,175.00 L307.48,174.90 L308.26,174.80 L309.02,174.72 L309.78,174.65 L310.54,174.59 L311.30,174.54 L312.07,174.49 L312.86,174.45 L313.65,174.41 L314.47,174.38 L315.31,174.35 L316.18,174.32 L317.08,174.29 L318.01,174.26 L318.98,174.23 L320.00,174.20 L321.79,174.15 L323.71,174.10 L325.74,174.06 L327.87,174.04 L330.10,174.01 L332.40,173.99 L334.76,173.98 L337.17,173.97 L339.61,173.96 L342.08,173.96 L344.55,173.95 L347.02,173.95 L349.48,173.94 L351.90,173.93 L354.28,173.92 L356.60,173.90" stroke="#7ad151" stroke-width="1.2"/>
</g>
<rect x="41.5" y="0.55" width="315.1" height="307.2" fill="none" stroke="#000" stroke-width="1.25"/>
<path d="M41.60,307.75v1.6 M57.35,307.75v1.6 M73.10,307.75v3.3 M88.85,307.75v1.6 M104.60,307.75v1.6 M120.35,307.75v1.6 M136.10,307.75v3.3 M151.85,307.75v1.6 M167.60,307.75v1.6 M183.35,307.75v1.6 M199.10,307.75v3.3 M214.85,307.75v1.6 M230.60,307.75v1.6 M246.35,307.75v1.6 M262.10,307.75v3.3 M277.85,307.75v1.6 M293.60,307.75v1.6 M309.35,307.75v1.6 M325.10,307.75v3.3 M340.85,307.75v1.6 M356.60,307.75v1.6 M41.5,305.68h-1.6 M41.5,291.10h-3.3 M41.5,276.52h-1.6 M41.5,261.95h-1.6 M41.5,247.38h-1.6 M41.5,232.80h-3.3 M41.5,218.22h-1.6 M41.5,203.65h-1.6 M41.5,189.07h-1.6 M41.5,174.50h-3.3 M41.5,159.93h-1.6 M41.5,145.35h-1.6 M41.5,130.78h-1.6 M41.5,116.20h-3.3 M41.5,101.62h-1.6 M41.5,87.05h-1.6 M41.5,72.47h-1.6 M41.5,57.90h-3.3 M41.5,43.32h-1.6 M41.5,28.75h-1.6 M41.5,14.18h-1.6" stroke="#000" stroke-width="1.0" fill="none"/>
<g font-size="9.9" fill="#000" stroke="#000" stroke-width="0.15">
<text x="73.10" y="322.3" text-anchor="middle">−4</text>
<text x="136.10" y="322.3" text-anchor="middle">−2</text>
<text x="199.10" y="322.3" text-anchor="middle">0</text>
<text x="262.10" y="322.3" text-anchor="middle">2</text>
<text x="325.10" y="322.3" text-anchor="middle">4</text>
<text x="35.2" y="294.71" text-anchor="end">−40</text>
<text x="35.2" y="236.41" text-anchor="end">−20</text>
<text x="35.2" y="178.11" text-anchor="end">0</text>
<text x="35.2" y="119.81" text-anchor="end">20</text>
<text x="35.2" y="61.51" text-anchor="end">40</text>
</g>
<text x="199.0" y="336.0" font-size="11.45" text-anchor="middle" stroke="#000" stroke-width="0.15">Velocity [km s<tspan font-size="8.01" dy="-4.12">−1</tspan><tspan dy="4.12">]</tspan></text>
<text transform="translate(9.9,155.4) rotate(-90)" font-size="11.45" text-anchor="middle" stroke="#000" stroke-width="0.15"><tspan font-style="italic">T</tspan><tspan font-size="8.93" dx="0.3" dy="2.29">mb</tspan><tspan dy="-2.29"> [K]</tspan></text>
<rect x="279.7" y="4.0" width="73.19999999999999" height="124.19999999999999" rx="1.6" fill="#fff" fill-opacity="0.8" stroke="#ccc" stroke-width="0.8"/>
<g font-size="7.6" fill="#000" stroke="#000" stroke-width="0.2">
<line x1="282.5" x2="298.6" y1="10.60" y2="10.60" stroke="#000" stroke-width="1.25" stroke-dasharray="3.5 1.6"/>
<text x="303.5" y="13.34">Observation</text>
<line x1="282.5" x2="298.6" y1="21.62" y2="21.62" stroke="#440154" stroke-width="1.55" stroke-opacity="0.78"/>
<text x="303.5" y="24.36"><tspan font-style="italic">θ</tspan><tspan dx="1.52">=</tspan><tspan dx="1.52">0</tspan><tspan font-size="5.32" dy="-2.89">∘</tspan></text>
<line x1="282.5" x2="298.6" y1="32.64" y2="32.64" stroke="#482071" stroke-width="1.55" stroke-opacity="0.78"/>
<text x="303.5" y="35.38"><tspan font-style="italic">θ</tspan><tspan dx="1.52">=</tspan><tspan dx="1.52">10</tspan><tspan font-size="5.32" dy="-2.89">∘</tspan></text>
<line x1="282.5" x2="298.6" y1="43.66" y2="43.66" stroke="#433d84" stroke-width="1.55" stroke-opacity="0.78"/>
<text x="303.5" y="46.40"><tspan font-style="italic">θ</tspan><tspan dx="1.52">=</tspan><tspan dx="1.52">20</tspan><tspan font-size="5.32" dy="-2.89">∘</tspan></text>
<line x1="282.5" x2="298.6" y1="54.68" y2="54.68" stroke="#39568c" stroke-width="1.55" stroke-opacity="0.78"/>
<text x="303.5" y="57.42"><tspan font-style="italic">θ</tspan><tspan dx="1.52">=</tspan><tspan dx="1.52">30</tspan><tspan font-size="5.32" dy="-2.89">∘</tspan></text>
<line x1="282.5" x2="298.6" y1="65.70" y2="65.70" stroke="#2e6e8e" stroke-width="1.55" stroke-opacity="0.78"/>
<text x="303.5" y="68.44"><tspan font-style="italic">θ</tspan><tspan dx="1.52">=</tspan><tspan dx="1.52">40</tspan><tspan font-size="5.32" dy="-2.89">∘</tspan></text>
<line x1="282.5" x2="298.6" y1="76.72" y2="76.72" stroke="#26828e" stroke-width="1.55" stroke-opacity="0.78"/>
<text x="303.5" y="79.46"><tspan font-style="italic">θ</tspan><tspan dx="1.52">=</tspan><tspan dx="1.52">50</tspan><tspan font-size="5.32" dy="-2.89">∘</tspan></text>
<line x1="282.5" x2="298.6" y1="87.74" y2="87.74" stroke="#1f988b" stroke-width="1.55" stroke-opacity="0.78"/>
<text x="303.5" y="90.48"><tspan font-style="italic">θ</tspan><tspan dx="1.52">=</tspan><tspan dx="1.52">60</tspan><tspan font-size="5.32" dy="-2.89">∘</tspan></text>
<line x1="282.5" x2="298.6" y1="98.76" y2="98.76" stroke="#27ad81" stroke-width="1.55" stroke-opacity="0.78"/>
<text x="303.5" y="101.50"><tspan font-style="italic">θ</tspan><tspan dx="1.52">=</tspan><tspan dx="1.52">70</tspan><tspan font-size="5.32" dy="-2.89">∘</tspan></text>
<line x1="282.5" x2="298.6" y1="109.78" y2="109.78" stroke="#4ac16d" stroke-width="1.55" stroke-opacity="0.78"/>
<text x="303.5" y="112.52"><tspan font-style="italic">θ</tspan><tspan dx="1.52">=</tspan><tspan dx="1.52">80</tspan><tspan font-size="5.32" dy="-2.89">∘</tspan></text>
<line x1="282.5" x2="298.6" y1="120.80" y2="120.80" stroke="#7ad151" stroke-width="1.55" stroke-opacity="0.78"/>
<text x="303.5" y="123.54"><tspan font-style="italic">θ</tspan><tspan dx="1.52">=</tspan><tspan dx="1.52">90</tspan><tspan font-size="5.32" dy="-2.89">∘</tspan></text>
</g>
</svg>
</body></html>
